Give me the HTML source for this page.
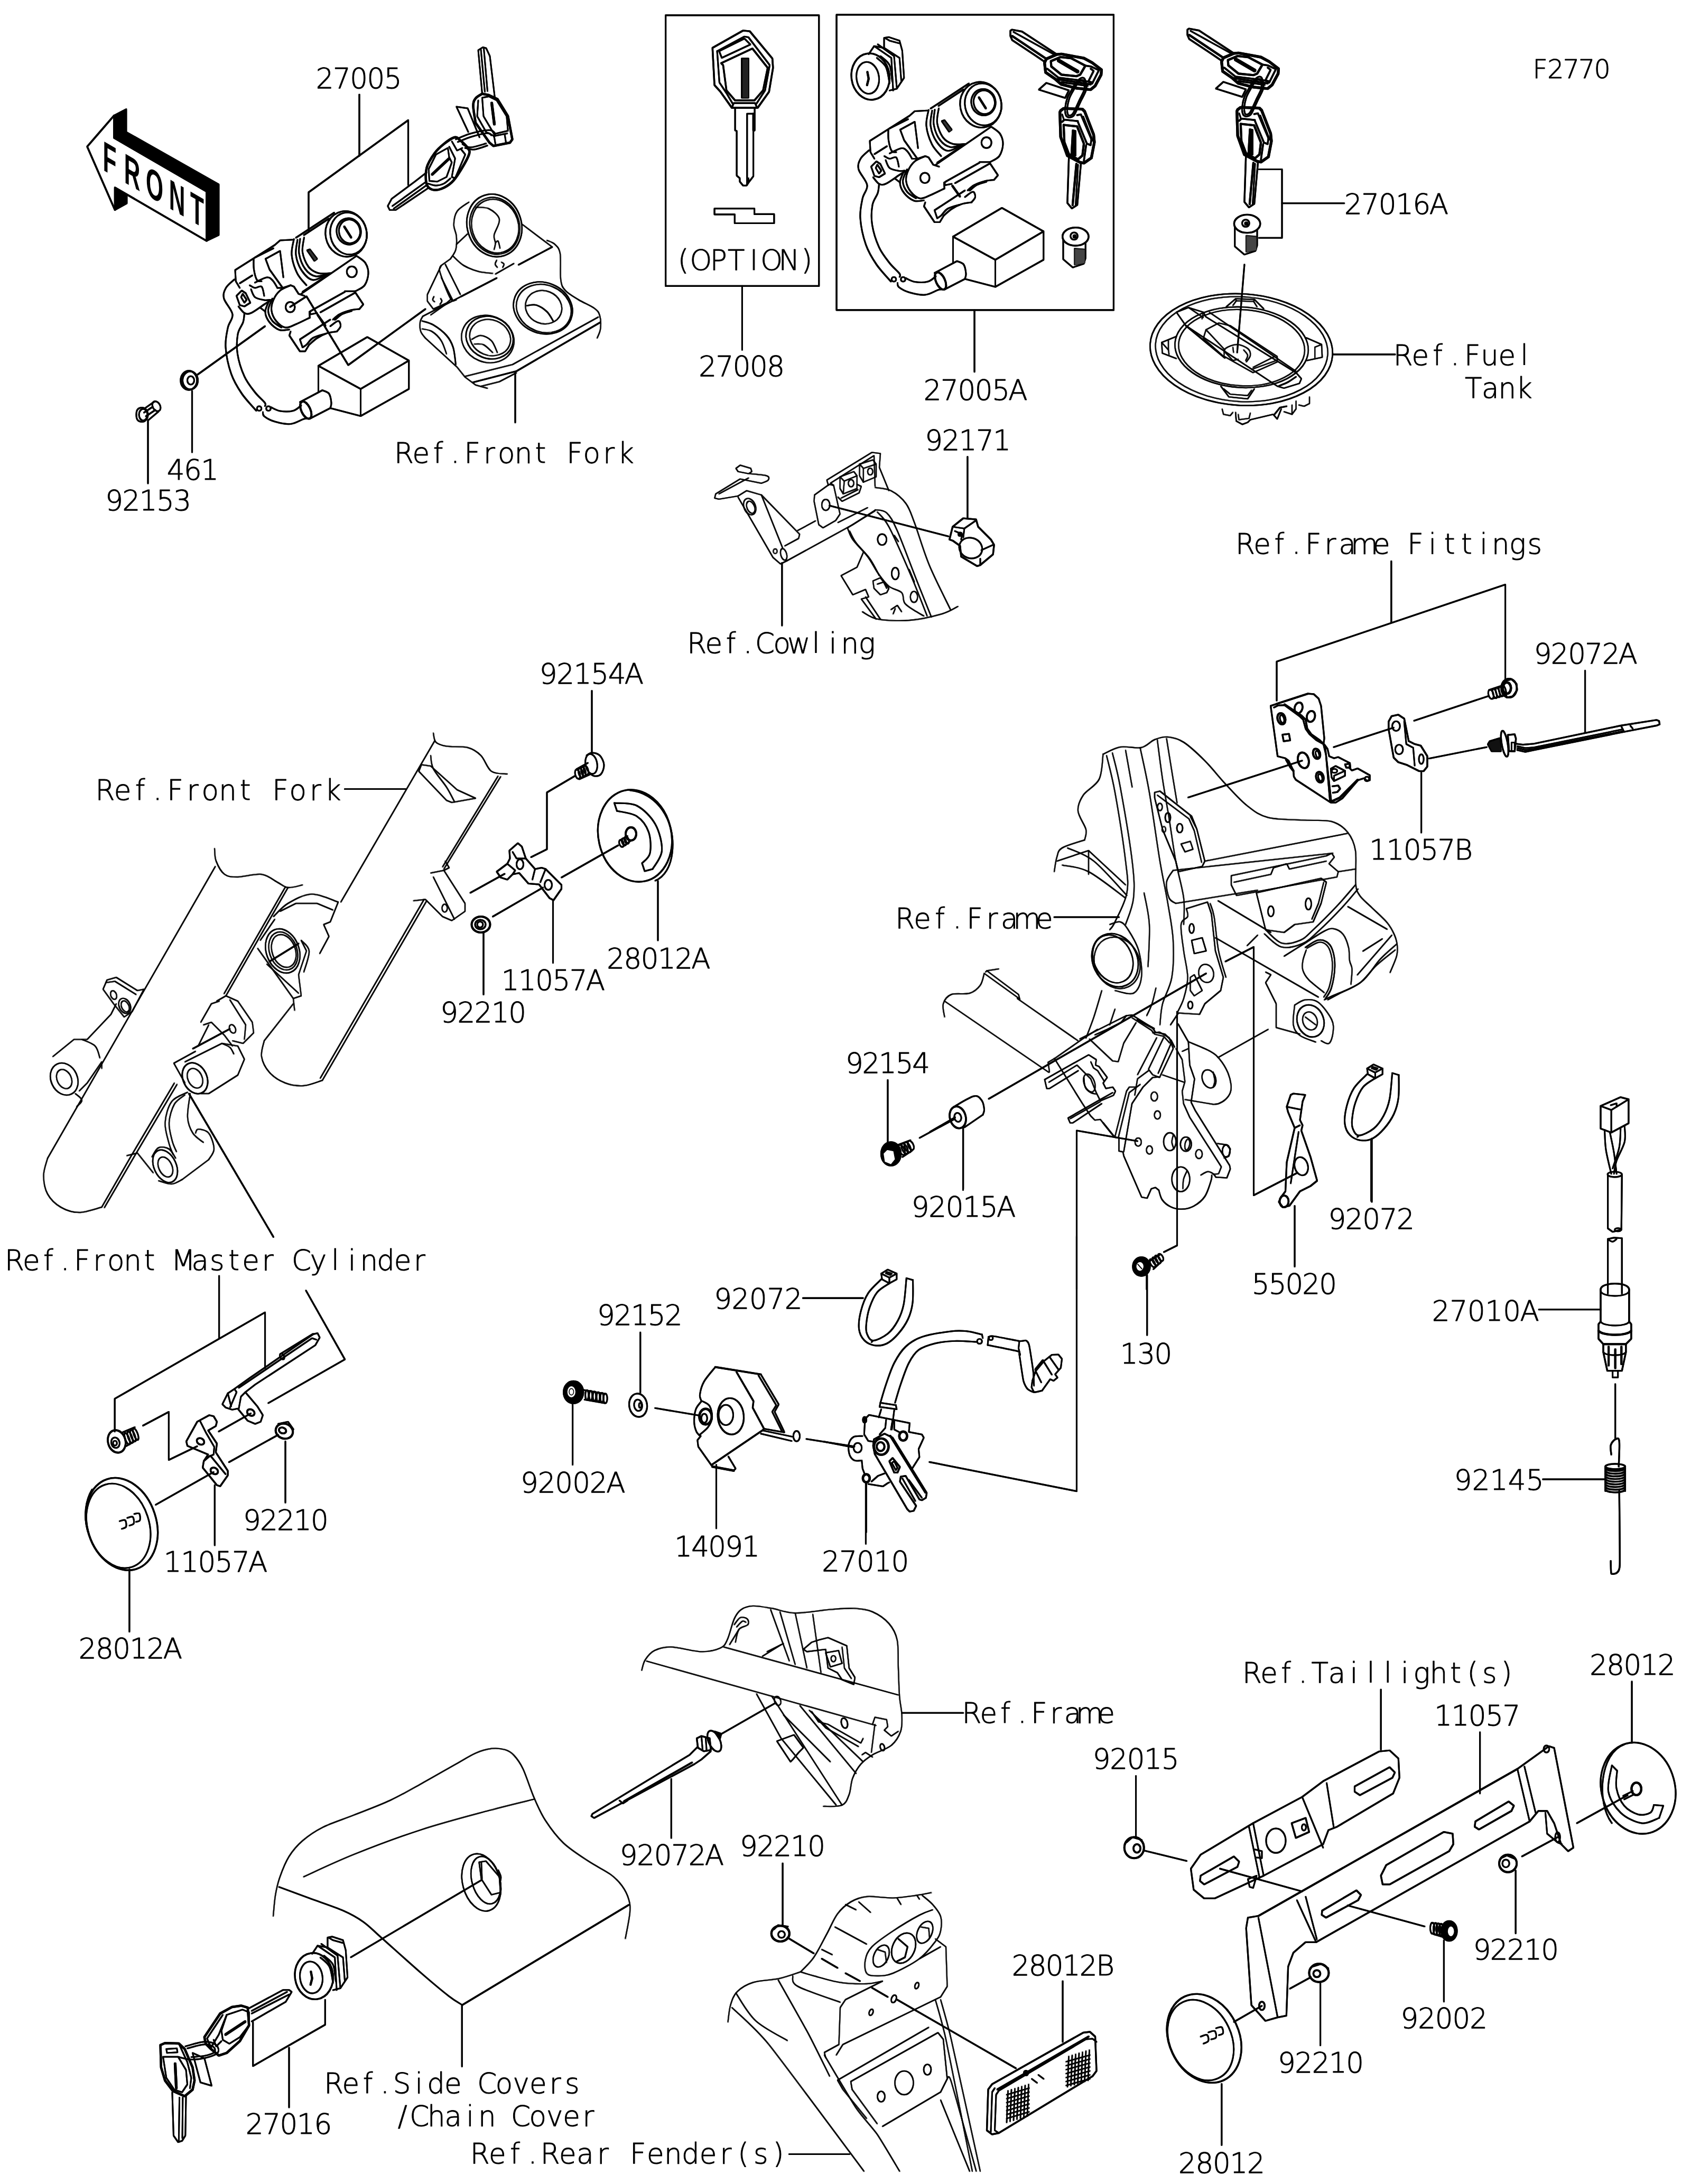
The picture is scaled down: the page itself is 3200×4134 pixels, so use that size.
<!DOCTYPE html>
<html><head><meta charset="utf-8"><title>F2770 Ignition Switch / Locks / Reflectors</title>
<style>
html,body{margin:0;padding:0;background:#fff}
body{width:3200px;height:4134px;overflow:hidden}
svg{display:block}
.t{font-family:"DejaVu Sans Light","DejaVu Sans","Liberation Sans",sans-serif;font-weight:200;fill:#000;stroke:#000;stroke-width:1px;text-anchor:middle}
.fr{font-family:"Liberation Sans",sans-serif;font-weight:700;fill:#000;stroke:none;text-anchor:middle}
</style></head><body>
<svg width="3200" height="4134" viewBox="0 0 3200 4134" fill="none" stroke="#000" stroke-linecap="round" stroke-linejoin="round">
<rect x="0" y="0" width="3200" height="4134" fill="#fff" stroke="none"/>
<g transform="translate(-0.7,-0.7)">
<g id="a">
<g transform="translate(100,150) scale(0.50000)" stroke-width="3.54">
<path d="M1160,58 L1160,290"/>
<path d="M968,572 L968,428 L1345,155 L1345,400"/>
<path d="M548,1118 L803,935"/>
<path d="M898,862 L960,822 L1118,1082 L1410,870"/>
<path d="M527,1180 L527,1412"/>
<path d="M360,1290 L360,1530"/>
<path d="M130,255 L232,137 L232,222 L582,425 L582,612 L235,410 L235,495 Z" stroke-width="4.08"/>
<path d="M232,137 L278,113 L278,200 L628,398 L628,590 L582,612 L582,425 L232,222 Z" stroke-width="2.72" fill="#000"/>
<path d="M235,410 L280,437 L280,470 L235,495 Z" stroke-width="2.72" fill="#000"/>
</g>
<g transform="translate(400,370) scale(0.25000)" stroke-width="6.53">
<ellipse cx="1020" cy="291" rx="156" ry="173" transform="rotate(-12 1020 291)"/>
<ellipse cx="1038" cy="288" rx="138" ry="160" transform="rotate(-12 1038 288)"/>
<ellipse cx="1040" cy="272" rx="92" ry="100" transform="rotate(-12 1040 272)"/>
<ellipse cx="1046" cy="272" rx="80" ry="90" transform="rotate(-12 1046 272)"/>
<path d="M1006,236 L1058,318" stroke-width="10.88"/>
<path d="M930,130 L640,320"/>
<path d="M890,175 L700,300"/>
<path d="M1098,458 L680,745"/>
<path d="M900,590 L690,730"/>
<path d="M625,330 C622.2,350.0 603.8,406.7 608,450 C612.2,493.3 631.3,551.7 650,590 C668.7,628.3 708.3,665.0 720,680"/>
<path d="M652,335 C650.0,354.2 634.5,410.8 640,450 C645.5,489.2 663.3,538.3 685,570 C706.7,601.7 737.5,636.3 770,640 C802.5,643.7 861.7,600.0 880,592"/>
<path d="M702,318 C700.0,336.7 684.5,393.0 690,430 C695.5,467.0 715.0,513.7 735,540 C755.0,566.3 781.7,580.0 810,588 C838.3,596.0 889.2,588.0 905,588"/>
<path d="M672,328 C670.7,346.7 657.7,402.0 664,440 C670.3,478.0 689.0,527.3 710,556 C731.0,584.7 760.0,606.3 790,612 C820.0,617.7 873.3,593.7 890,590"/>
<path d="M725,415 L745,408 L800,480 L780,495 Z" fill="#333"/>
<path d="M1100,458 C1110.8,466.7 1150.3,488.0 1165,510 C1179.7,532.0 1188.8,561.7 1188,590 C1187.2,618.3 1176.3,657.5 1160,680 C1143.7,702.5 1101.7,717.5 1090,725"/>
<path d="M1090,725 L1010,725"/>
<ellipse cx="1063" cy="578" rx="38" ry="41"/>
<path d="M600,680 C586.7,686.7 541.7,701.7 520,720 C498.3,738.3 480.8,765.0 470,790 C459.2,815.0 451.7,843.3 455,870 C458.3,896.7 472.5,928.3 490,950 C507.5,971.7 535.0,995.8 560,1000 C585.0,1004.2 609.2,987.5 640,975 C670.8,962.5 727.5,933.3 745,925"/>
<path d="M745,925 L742,882 L760,870"/>
<path d="M600,680 L625,690 L660,745 L705,760"/>
<ellipse cx="597" cy="845" rx="35" ry="39"/>
<path d="M440,790 C434.7,805.0 408.0,851.7 408,880 C408.0,908.3 422.2,937.0 440,960 C457.8,983.0 490.0,1008.8 515,1018 C540.0,1027.2 577.5,1015.5 590,1015"/>
<path d="M462,780 C456.7,795.0 430.0,841.7 430,870 C430.0,898.3 445.3,928.3 462,950 C478.7,971.7 518.7,991.7 530,1000"/>
<path d="M215,700 L185,650 L180,565 L480,375 L520,340 L615,335"/>
<path d="M330,470 L470,400"/>
<path d="M320,480 C320.3,493.3 317.8,533.3 322,560 C326.2,586.7 335.3,625.0 345,640 C354.7,655.0 374.2,648.3 380,650"/>
<path d="M330,660 C345.0,653.3 397.5,622.5 420,620 C442.5,617.5 451.7,631.7 465,645 C478.3,658.3 494.2,690.8 500,700"/>
<path d="M500,700 L540,700 L600,680"/>
<path d="M410,480 L520,420 L545,620"/>
<path d="M410,480 L440,560 L540,700"/>
<path d="M215,665 L310,605"/>
<path d="M290,680 C296.7,683.3 315.0,698.3 330,700 C345.0,701.7 368.3,680.0 380,690 C391.7,700.0 396.7,748.3 400,760"/>
<path d="M190,760 L230,720 L260,740 L295,812 L250,840 L215,830 Z"/>
<path d="M237,745 L267,790 L250,812 L225,770 Z"/>
<path d="M300,710 C305.0,720.0 313.3,756.3 330,770 C346.7,783.7 380.8,788.7 400,792 C419.2,795.3 437.5,790.3 445,790"/>
<path d="M205,840 C212.5,848.3 234.2,881.7 250,890 C265.8,898.3 275.0,900.8 300,890 C325.0,879.2 375.0,841.3 400,825 C425.0,808.7 441.7,797.5 450,792"/>
<path d="M370,850 L410,880"/>
<path d="M175,635 C164.2,645.8 123.3,675.8 110,700 C96.7,724.2 86.7,746.7 95,780 C103.3,813.3 155.0,863.3 160,900 C165.0,936.7 133.7,958.3 125,1000 C116.3,1041.7 103.8,1091.7 108,1150 C112.2,1208.3 129.7,1291.7 150,1350 C170.3,1408.3 198.3,1453.3 230,1500 C261.7,1546.7 321.7,1608.3 340,1630"/>
<path d="M250,892 C248.3,903.3 248.3,933.7 240,960 C231.7,986.3 207.0,1010.0 200,1050 C193.0,1090.0 189.7,1146.7 198,1200 C206.3,1253.3 228.0,1321.7 250,1370 C272.0,1418.3 304.2,1456.7 330,1490 C355.8,1523.3 392.5,1552.5 405,1570 C417.5,1587.5 405.0,1590.8 405,1595"/>
<ellipse cx="362" cy="1613" rx="17" ry="17"/>
<ellipse cx="432" cy="1613" rx="17" ry="17"/>
<path d="M390,1640 C391.7,1645.3 385.0,1660.0 400,1672 C415.0,1684.0 446.7,1702.3 480,1712 C513.3,1721.7 563.3,1733.3 600,1730 C636.7,1726.7 676.7,1698.7 700,1692 C723.3,1685.3 733.3,1690.3 740,1690"/>
<path d="M450,1603 C461.7,1607.8 491.7,1627.5 520,1632 C548.3,1636.5 593.3,1637.0 620,1630 C646.7,1623.0 670.0,1596.7 680,1590"/>
<ellipse cx="715" cy="1625" rx="34" ry="70" stroke-width="9.52" transform="rotate(-25 715 1625)"/>
<path d="M670,1565 L840,1475"/>
<path d="M745,1690 L900,1610"/>
<path d="M840,1475 C848.3,1479.2 878.7,1484.2 890,1500 C901.3,1515.8 906.3,1551.7 908,1570 C909.7,1588.3 901.3,1603.3 900,1610"/>
<path d="M810,1290 L1180,1072 L1495,1250 L1130,1465 Z"/>
<path d="M810,1290 L810,1490"/>
<path d="M900,1610 L1130,1670 L1495,1465 L1495,1250"/>
<path d="M1130,1465 L1130,1670"/>
<path d="M600,1030 L590,1060 L670,1180 L710,1180 L740,1130"/>
<path d="M740,1130 C750.0,1121.7 778.3,1094.2 800,1080 C821.7,1065.8 845.0,1053.3 870,1045 C895.0,1036.7 936.7,1032.5 950,1030"/>
<path d="M950,1030 C954.7,1023.3 976.3,1003.3 978,990 C979.7,976.7 973.0,950.0 960,950 C947.0,950.0 910.0,983.3 900,990"/>
<path d="M690,1150 L670,1090 L900,940"/>
<path d="M690,1150 C695.0,1146.7 706.7,1142.0 720,1130 C733.3,1118.0 746.7,1091.7 770,1078 C793.3,1064.3 845.0,1053.0 860,1048"/>
<path d="M760,870 L1010,730"/>
<path d="M825,885 L1090,735"/>
<path d="M1090,735 L1150,825 L1120,860"/>
<path d="M1120,860 C1108.3,861.7 1075.0,863.3 1050,870 C1025.0,876.7 991.7,888.3 970,900 C948.3,911.7 928.3,933.3 920,940"/>
<path d="M935,938 C944.2,930.8 969.2,906.0 990,895 C1010.8,884.0 1048.3,875.8 1060,872" stroke-width="12.24"/>
<path d="M745,880 L750,900 L800,890"/>
<path d="M805,905 L862,985" stroke-width="10.88"/>
</g>
<g transform="translate(100,150) scale(0.50000)" stroke-width="3.26">
<ellipse cx="515" cy="1140" rx="31" ry="36" stroke-width="4.08"/>
<ellipse cx="520" cy="1140" rx="29" ry="34"/>
<ellipse cx="522" cy="1140" rx="13" ry="16"/>
<path d="M318,1255 C320.8,1248.0 329.3,1243.8 335,1243 C340.7,1242.2 347.8,1245.5 352,1250 C356.2,1254.5 360.0,1263.3 360,1270 C360.0,1276.7 356.2,1285.5 352,1290 C347.8,1294.5 340.7,1297.8 335,1297 C329.3,1296.2 320.8,1292.0 318,1285 C315.2,1278.0 315.2,1262.0 318,1255 Z"/>
<ellipse cx="342" cy="1270" rx="16" ry="22" stroke-width="3.26"/>
<path d="M345,1248 L385,1220"/>
<path d="M362,1290 L400,1258"/>
<ellipse cx="392" cy="1238" rx="14" ry="20" transform="rotate(-30 392 1238)"/>
<path d="M345,1262 L378,1240"/>
<path d="M352,1276 L388,1252"/>
</g>
<g transform="translate(700,60) scale(0.25000)" stroke-width="5.98">
<path d="M850,470 L820,140 L855,118 L880,125 L908,185 L945,495"/>
<path d="M840,135 L870,455"/>
<path d="M862,125 L890,450"/>
<path d="M850,470 C841.7,475.8 811.3,490.0 800,505 C788.7,520.0 782.0,529.2 782,560 C782.0,590.8 797.0,668.3 800,690" stroke-width="11.97"/>
<path d="M800,690 L905,840 L935,865 L1060,840 L1078,815 L1045,640 L965,510 L900,480 L850,470" stroke-width="11.97"/>
<path d="M850,500 L900,490 L960,520 L1035,640 L1045,750 L940,775 L860,640 Z"/>
<path d="M820,520 L812,640 L880,760 L940,790 L1040,770"/>
<path d="M922,540 L942,700" stroke-width="14.96"/>
<path d="M940,790 L950,850"/>
<path d="M1020,775 L1030,840"/>
<path d="M745,760 L655,568 L740,580 L830,800"/>
<path d="M650,815 C668.3,807.8 718.3,783.7 760,772 C801.7,760.3 869.2,745.7 900,745 C930.8,744.3 938.7,759.7 945,768 C951.3,776.3 939.2,790.5 938,795"/>
<path d="M665,835 C682.5,828.3 732.5,806.2 770,795 C807.5,783.8 865.0,769.7 890,768 C915.0,766.3 915.0,782.2 920,785"/>
<path d="M700,850 C710.0,854.3 730.0,876.7 760,876 C790.0,875.3 860.0,851.0 880,846"/>
<path d="M720,880 C731.7,882.0 761.7,895.0 790,892 C818.3,889.0 873.3,867.0 890,862"/>
<path d="M640,800 C620.0,805.0 585.0,830.0 560,850 C535.0,870.0 511.7,890.0 490,920 C468.3,950.0 440.3,991.7 430,1030 C419.7,1068.3 421.3,1122.5 428,1150 C434.7,1177.5 451.3,1188.3 470,1195 C488.7,1201.7 515.0,1199.2 540,1190 C565.0,1180.8 596.7,1161.7 620,1140 C643.3,1118.3 658.3,1095.0 680,1060 C701.7,1025.0 740.0,960.0 750,930 C760.0,900.0 751.7,898.3 740,880 C728.3,861.7 696.7,833.3 680,820 C663.3,806.7 660.0,795.0 640,800 Z" stroke-width="11.97"/>
<path d="M590,880 L500,930 L445,1040 L450,1130 L510,1135 L580,1100 L620,990 L600,950 Z"/>
<path d="M472,1080 L598,962" stroke-width="14.96"/>
<path d="M600,870 L645,960 L620,1100 L645,1110 L722,930 L690,890"/>
<path d="M620,830 L660,900 L700,880"/>
<path d="M440,1150 C450.0,1152.5 480.0,1165.0 500,1165 C520.0,1165.0 541.7,1159.2 560,1150 C578.3,1140.8 601.7,1116.7 610,1110"/>
<path d="M430,1065 L340,1135 L165,1265 L135,1320 L150,1350 L195,1350 L440,1185"/>
<path d="M420,1140 L170,1320"/>
<path d="M425,1165 L180,1340"/>
</g>
<g transform="translate(1240,10) scale(0.25183)" stroke-width="6.75">
<path d="M78,75 L1230,75 L1230,2110 L78,2110 Z"/>
<path d="M653,2110 L653,2590"/>
<path d="M430,320 L660,190 L710,195 L880,400 L885,470 L855,650 L770,770 L575,770 L490,650 L445,600 Z" stroke-width="8.10"/>
<path d="M465,345 L670,235 L700,240 L860,450 L825,640 L760,740"/>
<path d="M465,345 L482,580 L535,660 L582,740"/>
<path d="M495,435 L730,325 L845,470 L810,640 L745,715 L600,715 L535,640 L510,450 Z" stroke-width="8.10"/>
<path d="M480,345 L670,250 L715,295 L500,395 Z"/>
<path d="M650,400 L700,400 L700,695 L650,695 Z" fill="#222"/>
<path d="M590,735 L750,735 L765,770 L575,770 Z"/>
<path d="M600,770 L600,940 L612,945 L612,1280 L635,1300 L635,1325 L660,1355 L685,1355 L710,1320 L737,1285 L737,945 L747,940 L747,770"/>
<path d="M735,815 L690,815 L690,1350"/>
<path d="M737,815 L737,940" stroke-width="9.45"/>
<path d="M700,1300 L700,1325"/>
<path d="M445,1528 L745,1528 L745,1570 L893,1570 L893,1638 L597,1638 L597,1572 L445,1572 Z"/>
</g>
<g transform="translate(770,340) scale(0.25000)" stroke-width="4.07">
<ellipse cx="662" cy="347" rx="205" ry="240" stroke-width="5.30" transform="rotate(-18 662 347)"/>
<ellipse cx="665" cy="350" rx="186" ry="218" transform="rotate(-18 665 350)"/>
<ellipse cx="668" cy="352" rx="176" ry="206" transform="rotate(-18 668 352)"/>
<path d="M520,210 C536.7,211.7 590.0,205.0 620,220 C650.0,235.0 693.3,266.7 700,300 C706.7,333.3 665.0,390.0 660,420 C655.0,450.0 670.0,461.7 670,480 C670.0,498.3 661.7,521.7 660,530"/>
<path d="M670,480 C673.3,477.5 684.2,458.3 690,465 C695.8,471.7 702.5,510.8 705,520"/>
<path d="M470,170 C455.0,181.7 399.2,211.7 380,240 C360.8,268.3 355.8,308.3 355,340 C354.2,371.7 372.5,398.3 375,430 C377.5,461.7 377.5,501.7 370,530 C362.5,558.3 336.7,588.3 330,600"/>
<path d="M375,490 L460,410"/>
<path d="M350,580 C363.3,591.7 398.3,630.8 430,650 C461.7,669.2 503.3,685.0 540,695 C576.7,705.0 631.7,707.5 650,710"/>
<path d="M680,610 C678.0,615.0 667.2,630.8 668,640 C668.8,649.2 682.2,660.8 685,665"/>
<path d="M715,625 C718.3,627.5 733.3,633.3 735,640 C736.7,646.7 726.7,660.8 725,665"/>
<path d="M875,340 L1100,510"/>
<path d="M1060,460 C1070.0,465.0 1103.3,473.3 1120,490 C1136.7,506.7 1152.5,515.0 1160,560 C1167.5,605.0 1158.3,713.3 1165,760 C1171.7,806.7 1177.5,815.0 1200,840 C1222.5,865.0 1263.3,887.5 1300,910 C1336.7,932.5 1393.3,955.0 1420,975 C1446.7,995.0 1452.5,1004.2 1460,1030 C1467.5,1055.8 1468.3,1101.7 1465,1130 C1461.7,1158.3 1444.2,1188.3 1440,1200"/>
<path d="M1100,510 L845,645" stroke-width="6.19"/>
<path d="M810,635 L670,715"/>
<path d="M680,745 L410,885" stroke-width="6.19"/>
<path d="M330,600 L260,650 L155,870 L155,920 L200,980 L300,935 L340,900"/>
<path d="M260,650 C258.3,658.3 238.3,658.3 250,700 C261.7,741.7 309.2,865.0 330,900 C350.8,935.0 367.5,908.3 375,910"/>
<path d="M290,640 L405,870"/>
<path d="M260,740 L350,920"/>
<path d="M205,885 C203.3,889.2 194.2,903.3 195,910 C195.8,916.7 207.5,922.5 210,925"/>
<path d="M255,900 C256.7,903.3 265.8,912.5 265,920 C264.2,927.5 252.5,940.8 250,945"/>
<path d="M120,1035 L410,885"/>
<path d="M180,1025 L300,940"/>
<path d="M120,1035 C116.7,1042.5 102.5,1060.8 100,1080 C97.5,1099.2 98.3,1130.0 105,1150 C111.7,1170.0 134.2,1191.7 140,1200"/>
<path d="M140,1200 L380,1420 L440,1495 L520,1555 L610,1580"/>
<path d="M115,1070 C129.2,1075.0 169.2,1081.7 200,1100 C230.8,1118.3 275.0,1151.7 300,1180 C325.0,1208.3 338.3,1233.3 350,1270 C361.7,1306.7 366.7,1378.3 370,1400" stroke-width="5.66"/>
<path d="M115,1130 C127.5,1133.3 165.8,1135.0 190,1150 C214.2,1165.0 241.7,1191.7 260,1220 C278.3,1248.3 293.3,1303.3 300,1320"/>
<path d="M440,1490 L800,1400 L1450,1040"/>
<path d="M500,1535 L830,1450 L1465,1080" stroke-width="6.36"/>
<path d="M560,1565 L700,1530 L830,1462"/>
<path d="M820,1460 L820,1839" stroke-width="6.80"/>
<ellipse cx="1030" cy="972" rx="228" ry="192" stroke-width="4.95" transform="rotate(22 1030 972)"/>
<ellipse cx="1036" cy="976" rx="212" ry="178" transform="rotate(22 1036 976)"/>
<ellipse cx="1035" cy="966" rx="140" ry="124" transform="rotate(22 1035 966)"/>
<path d="M905,955 C917.5,954.2 954.2,942.5 980,950 C1005.8,957.5 1038.3,979.2 1060,1000 C1081.7,1020.8 1101.7,1062.5 1110,1075" stroke-width="5.30"/>
<ellipse cx="612" cy="1207" rx="202" ry="176" transform="rotate(22 612 1207)"/>
<ellipse cx="626" cy="1196" rx="182" ry="158" stroke-width="4.95" transform="rotate(22 626 1196)"/>
<ellipse cx="630" cy="1196" rx="158" ry="134" transform="rotate(22 630 1196)"/>
<path d="M490,1210 C501.7,1205.0 535.0,1178.3 560,1180 C585.0,1181.7 619.2,1198.3 640,1220 C660.8,1241.7 677.5,1295.0 685,1310"/>
<path d="M510,1245 C521.7,1245.8 556.7,1239.2 580,1250 C603.3,1260.8 638.3,1300.0 650,1310"/>
</g>
<g transform="translate(1601,125.5) scale(0.25000)" stroke-width="6.53">
<ellipse cx="1020" cy="291" rx="156" ry="173" transform="rotate(-12 1020 291)"/>
<ellipse cx="1038" cy="288" rx="138" ry="160" transform="rotate(-12 1038 288)"/>
<ellipse cx="1040" cy="272" rx="92" ry="100" transform="rotate(-12 1040 272)"/>
<ellipse cx="1046" cy="272" rx="80" ry="90" transform="rotate(-12 1046 272)"/>
<path d="M1006,236 L1058,318" stroke-width="10.88"/>
<path d="M930,130 L640,320"/>
<path d="M890,175 L700,300"/>
<path d="M1098,458 L680,745"/>
<path d="M900,590 L690,730"/>
<path d="M625,330 C622.2,350.0 603.8,406.7 608,450 C612.2,493.3 631.3,551.7 650,590 C668.7,628.3 708.3,665.0 720,680"/>
<path d="M652,335 C650.0,354.2 634.5,410.8 640,450 C645.5,489.2 663.3,538.3 685,570 C706.7,601.7 737.5,636.3 770,640 C802.5,643.7 861.7,600.0 880,592"/>
<path d="M702,318 C700.0,336.7 684.5,393.0 690,430 C695.5,467.0 715.0,513.7 735,540 C755.0,566.3 781.7,580.0 810,588 C838.3,596.0 889.2,588.0 905,588"/>
<path d="M672,328 C670.7,346.7 657.7,402.0 664,440 C670.3,478.0 689.0,527.3 710,556 C731.0,584.7 760.0,606.3 790,612 C820.0,617.7 873.3,593.7 890,590"/>
<path d="M725,415 L745,408 L800,480 L780,495 Z" fill="#333"/>
<path d="M1100,458 C1110.8,466.7 1150.3,488.0 1165,510 C1179.7,532.0 1188.8,561.7 1188,590 C1187.2,618.3 1176.3,657.5 1160,680 C1143.7,702.5 1101.7,717.5 1090,725"/>
<path d="M1090,725 L1010,725"/>
<ellipse cx="1063" cy="578" rx="38" ry="41"/>
<path d="M600,680 C586.7,686.7 541.7,701.7 520,720 C498.3,738.3 480.8,765.0 470,790 C459.2,815.0 451.7,843.3 455,870 C458.3,896.7 472.5,928.3 490,950 C507.5,971.7 535.0,995.8 560,1000 C585.0,1004.2 609.2,987.5 640,975 C670.8,962.5 727.5,933.3 745,925"/>
<path d="M745,925 L742,882 L760,870"/>
<path d="M600,680 L625,690 L660,745 L705,760"/>
<ellipse cx="597" cy="845" rx="35" ry="39"/>
<path d="M440,790 C434.7,805.0 408.0,851.7 408,880 C408.0,908.3 422.2,937.0 440,960 C457.8,983.0 490.0,1008.8 515,1018 C540.0,1027.2 577.5,1015.5 590,1015"/>
<path d="M462,780 C456.7,795.0 430.0,841.7 430,870 C430.0,898.3 445.3,928.3 462,950 C478.7,971.7 518.7,991.7 530,1000"/>
<path d="M215,700 L185,650 L180,565 L480,375 L520,340 L615,335"/>
<path d="M330,470 L470,400"/>
<path d="M320,480 C320.3,493.3 317.8,533.3 322,560 C326.2,586.7 335.3,625.0 345,640 C354.7,655.0 374.2,648.3 380,650"/>
<path d="M330,660 C345.0,653.3 397.5,622.5 420,620 C442.5,617.5 451.7,631.7 465,645 C478.3,658.3 494.2,690.8 500,700"/>
<path d="M500,700 L540,700 L600,680"/>
<path d="M410,480 L520,420 L545,620"/>
<path d="M410,480 L440,560 L540,700"/>
<path d="M215,665 L310,605"/>
<path d="M290,680 C296.7,683.3 315.0,698.3 330,700 C345.0,701.7 368.3,680.0 380,690 C391.7,700.0 396.7,748.3 400,760"/>
<path d="M190,760 L230,720 L260,740 L295,812 L250,840 L215,830 Z"/>
<path d="M237,745 L267,790 L250,812 L225,770 Z"/>
<path d="M300,710 C305.0,720.0 313.3,756.3 330,770 C346.7,783.7 380.8,788.7 400,792 C419.2,795.3 437.5,790.3 445,790"/>
<path d="M205,840 C212.5,848.3 234.2,881.7 250,890 C265.8,898.3 275.0,900.8 300,890 C325.0,879.2 375.0,841.3 400,825 C425.0,808.7 441.7,797.5 450,792"/>
<path d="M370,850 L410,880"/>
<path d="M175,635 C164.2,645.8 123.3,675.8 110,700 C96.7,724.2 86.7,746.7 95,780 C103.3,813.3 155.0,863.3 160,900 C165.0,936.7 133.7,958.3 125,1000 C116.3,1041.7 103.8,1091.7 108,1150 C112.2,1208.3 129.7,1291.7 150,1350 C170.3,1408.3 198.3,1453.3 230,1500 C261.7,1546.7 321.7,1608.3 340,1630"/>
<path d="M250,892 C248.3,903.3 248.3,933.7 240,960 C231.7,986.3 207.0,1010.0 200,1050 C193.0,1090.0 189.7,1146.7 198,1200 C206.3,1253.3 228.0,1321.7 250,1370 C272.0,1418.3 304.2,1456.7 330,1490 C355.8,1523.3 392.5,1552.5 405,1570 C417.5,1587.5 405.0,1590.8 405,1595"/>
<ellipse cx="362" cy="1613" rx="17" ry="17"/>
<ellipse cx="432" cy="1613" rx="17" ry="17"/>
<path d="M390,1640 C391.7,1645.3 385.0,1660.0 400,1672 C415.0,1684.0 446.7,1702.3 480,1712 C513.3,1721.7 563.3,1733.3 600,1730 C636.7,1726.7 676.7,1698.7 700,1692 C723.3,1685.3 733.3,1690.3 740,1690"/>
<path d="M450,1603 C461.7,1607.8 491.7,1627.5 520,1632 C548.3,1636.5 593.3,1637.0 620,1630 C646.7,1623.0 670.0,1596.7 680,1590"/>
<ellipse cx="715" cy="1625" rx="34" ry="70" stroke-width="9.52" transform="rotate(-25 715 1625)"/>
<path d="M670,1565 L840,1475"/>
<path d="M745,1690 L900,1610"/>
<path d="M840,1475 C848.3,1479.2 878.7,1484.2 890,1500 C901.3,1515.8 906.3,1551.7 908,1570 C909.7,1588.3 901.3,1603.3 900,1610"/>
<path d="M810,1290 L1180,1072 L1495,1250 L1130,1465 Z"/>
<path d="M810,1290 L810,1490"/>
<path d="M900,1610 L1130,1670 L1495,1465 L1495,1250"/>
<path d="M1130,1465 L1130,1670"/>
<path d="M600,1030 L590,1060 L670,1180 L710,1180 L740,1130"/>
<path d="M740,1130 C750.0,1121.7 778.3,1094.2 800,1080 C821.7,1065.8 845.0,1053.3 870,1045 C895.0,1036.7 936.7,1032.5 950,1030"/>
<path d="M950,1030 C954.7,1023.3 976.3,1003.3 978,990 C979.7,976.7 973.0,950.0 960,950 C947.0,950.0 910.0,983.3 900,990"/>
<path d="M690,1150 L670,1090 L900,940"/>
<path d="M690,1150 C695.0,1146.7 706.7,1142.0 720,1130 C733.3,1118.0 746.7,1091.7 770,1078 C793.3,1064.3 845.0,1053.0 860,1048"/>
<path d="M760,870 L1010,730"/>
<path d="M825,885 L1090,735"/>
<path d="M1090,735 L1150,825 L1120,860"/>
<path d="M1120,860 C1108.3,861.7 1075.0,863.3 1050,870 C1025.0,876.7 991.7,888.3 970,900 C948.3,911.7 928.3,933.3 920,940"/>
<path d="M935,938 C944.2,930.8 969.2,906.0 990,895 C1010.8,884.0 1048.3,875.8 1060,872" stroke-width="12.24"/>
<path d="M745,880 L750,900 L800,890"/>
<path d="M805,905 L862,985" stroke-width="10.88"/>
</g>
<g transform="translate(1570,10) scale(0.34341)" stroke-width="4.75">
<path d="M38,52 L1565,52 L1565,1680 L38,1680 Z" stroke-width="5.15"/>
<path d="M798,1680 L798,2020" stroke-width="5.15"/>
</g>
<g transform="translate(1895,42) scale(0.14192)" stroke-width="11.02">
<path d="M740,430 L275,125 L140,100 L120,115 L120,185 L145,240 L440,435 L580,530" stroke-width="13.42"/>
<path d="M145,185 L600,490" stroke-width="19.17"/>
<path d="M160,130 L720,440"/>
<path d="M740,430 L800,425 L1100,480 L1210,540 L1335,635 L1330,700 L1250,850 L1190,900 L1000,880 L800,830 L720,760 L590,670 L575,540 L600,490 Z" stroke-width="26.35"/>
<path d="M660,520 L790,465 L930,480 L1120,580 L1050,700 L1000,720 L800,700 L665,590 Z" stroke-width="19.17"/>
<path d="M765,512 L1015,658" stroke-width="38.33"/>
<path d="M610,620 L760,740 L1000,770 L1200,800" stroke-width="14.37"/>
<path d="M1120,580 L1190,590 L1300,640 L1210,820 L1160,790 L1230,650 L1190,620" stroke-width="14.37"/>
<path d="M730,760 L1000,800 L1190,830" stroke-width="16.77"/>
<path d="M800,800 L1150,850" stroke-width="14.37"/>
<path d="M500,900 L600,810 L900,910 L850,1010 Z" stroke-width="12.46"/>
<path d="M1080,740 C1060.0,743.3 1023.3,773.3 1000,800 C976.7,826.7 960.0,865.0 940,900 C920.0,935.0 895.0,968.3 880,1010 C865.0,1051.7 853.3,1111.7 850,1150 C846.7,1188.3 851.7,1220.0 860,1240 C868.3,1260.0 883.3,1268.3 900,1270 C916.7,1271.7 943.3,1265.0 960,1250 C976.7,1235.0 983.3,1213.3 1000,1180 C1016.7,1146.7 1038.3,1096.7 1060,1050 C1081.7,1003.3 1120.0,945.0 1130,900 C1140.0,855.0 1128.3,806.7 1120,780 C1111.7,753.3 1100.0,736.7 1080,740 Z" stroke-width="12.46"/>
<path d="M1075,770 C1060.8,773.3 1034.2,796.7 1015,820 C995.8,843.3 978.3,876.7 960,910 C941.7,943.3 918.7,980.0 905,1020 C891.3,1060.0 881.3,1115.8 878,1150 C874.7,1184.2 880.5,1209.2 885,1225 C889.5,1240.8 895.0,1244.2 905,1245 C915.0,1245.8 932.5,1242.5 945,1230 C957.5,1217.5 964.2,1201.7 980,1170 C995.8,1138.3 1019.2,1085.0 1040,1040 C1060.8,995.0 1095.0,940.0 1105,900 C1115.0,860.0 1105.0,821.7 1100,800 C1095.0,778.3 1089.2,766.7 1075,770 Z"/>
<path d="M790,1180 L830,1150 L1080,1160 L1110,1190 L1230,1500 L1240,1600 L1200,1810 L1100,1880 L1050,1870 L880,1780 L790,1530 L780,1200 Z" stroke-width="26.35"/>
<path d="M830,1370 L1010,1390 L1100,1620 L1080,1780 L1020,1830 L900,1760 L840,1600 Z" stroke-width="19.17"/>
<path d="M950,1440 L930,1780 L990,1780 L990,1450 Z" stroke-width="9.58" fill="#000"/>
<path d="M1010,1240 L1060,1230 L1200,1560 L1190,1640 L1140,1620 L1020,1330" stroke-width="14.37"/>
<path d="M1090,1260 L1215,1580" stroke-width="14.37"/>
<path d="M810,1330 L840,1300 L1020,1320" stroke-width="14.37"/>
<path d="M810,1230 L830,1290"/>
<path d="M1130,1640 L1100,1850" stroke-width="14.37"/>
<path d="M900,1800 L880,2412 L940,2484 L1012,2436 L1060,1890" stroke-width="13.42"/>
<path d="M1000,1890 L950,2440" stroke-width="19.17"/>
<path d="M1022,1900 L990,2450"/>
</g>
<g transform="translate(1570,10) scale(0.34341)" stroke-width="4.55">
<ellipse cx="1355" cy="1275" rx="72" ry="50" stroke-width="5.54"/>
<ellipse cx="1347" cy="1272" rx="20" ry="20"/>
<ellipse cx="1350" cy="1274" rx="7" ry="7" fill="#000"/>
<path d="M1287,1290 L1287,1400 L1340,1445 L1400,1425 L1410,1395 L1410,1310"/>
<path d="M1350,1340 L1405,1345 L1405,1420 L1350,1430 Z" stroke-width="1.98" fill="#444"/>
</g>
<g transform="translate(1570,10) scale(0.34341)" stroke-width="4.55">
<ellipse cx="225" cy="393" rx="105" ry="128" stroke-width="5.54" transform="rotate(-8 225 393)"/>
<ellipse cx="210" cy="400" rx="62" ry="88" transform="rotate(-8 210 400)"/>
<path d="M208,368 L215,405 L206,440" stroke-width="7.92"/>
<path d="M215,270 L245,225 L300,235 L300,180 L325,175 L385,195 L400,250 L410,400 L370,460 L330,470"/>
<path d="M245,225 L340,290 L350,470"/>
<path d="M265,215 L355,280 L370,455"/>
<path d="M300,235 L385,290 L395,420"/>
<path d="M260,290 C268.3,298.3 298.3,316.7 310,340 C321.7,363.3 326.7,415.0 330,430"/>
<path d="M280,280 C288.3,288.3 319.2,306.7 330,330 C340.8,353.3 342.5,405.0 345,420"/>
<path d="M305,180 L330,195 L385,210"/>
</g>
<g transform="translate(2230,40) scale(0.14192)" stroke-width="11.02">
<path d="M740,430 L275,125 L140,100 L120,115 L120,185 L145,240 L440,435 L580,530" stroke-width="13.42"/>
<path d="M145,185 L600,490" stroke-width="19.17"/>
<path d="M160,130 L720,440"/>
<path d="M740,430 L800,425 L1100,480 L1210,540 L1335,635 L1330,700 L1250,850 L1190,900 L1000,880 L800,830 L720,760 L590,670 L575,540 L600,490 Z" stroke-width="26.35"/>
<path d="M660,520 L790,465 L930,480 L1120,580 L1050,700 L1000,720 L800,700 L665,590 Z" stroke-width="19.17"/>
<path d="M765,512 L1015,658" stroke-width="38.33"/>
<path d="M610,620 L760,740 L1000,770 L1200,800" stroke-width="14.37"/>
<path d="M1120,580 L1190,590 L1300,640 L1210,820 L1160,790 L1230,650 L1190,620" stroke-width="14.37"/>
<path d="M730,760 L1000,800 L1190,830" stroke-width="16.77"/>
<path d="M800,800 L1150,850" stroke-width="14.37"/>
<path d="M500,900 L600,810 L900,910 L850,1010 Z" stroke-width="12.46"/>
<path d="M1080,740 C1060.0,743.3 1023.3,773.3 1000,800 C976.7,826.7 960.0,865.0 940,900 C920.0,935.0 895.0,968.3 880,1010 C865.0,1051.7 853.3,1111.7 850,1150 C846.7,1188.3 851.7,1220.0 860,1240 C868.3,1260.0 883.3,1268.3 900,1270 C916.7,1271.7 943.3,1265.0 960,1250 C976.7,1235.0 983.3,1213.3 1000,1180 C1016.7,1146.7 1038.3,1096.7 1060,1050 C1081.7,1003.3 1120.0,945.0 1130,900 C1140.0,855.0 1128.3,806.7 1120,780 C1111.7,753.3 1100.0,736.7 1080,740 Z" stroke-width="12.46"/>
<path d="M1075,770 C1060.8,773.3 1034.2,796.7 1015,820 C995.8,843.3 978.3,876.7 960,910 C941.7,943.3 918.7,980.0 905,1020 C891.3,1060.0 881.3,1115.8 878,1150 C874.7,1184.2 880.5,1209.2 885,1225 C889.5,1240.8 895.0,1244.2 905,1245 C915.0,1245.8 932.5,1242.5 945,1230 C957.5,1217.5 964.2,1201.7 980,1170 C995.8,1138.3 1019.2,1085.0 1040,1040 C1060.8,995.0 1095.0,940.0 1105,900 C1115.0,860.0 1105.0,821.7 1100,800 C1095.0,778.3 1089.2,766.7 1075,770 Z"/>
<path d="M790,1180 L830,1150 L1080,1160 L1110,1190 L1230,1500 L1240,1600 L1200,1810 L1100,1880 L1050,1870 L880,1780 L790,1530 L780,1200 Z" stroke-width="26.35"/>
<path d="M830,1370 L1010,1390 L1100,1620 L1080,1780 L1020,1830 L900,1760 L840,1600 Z" stroke-width="19.17"/>
<path d="M950,1440 L930,1780 L990,1780 L990,1450 Z" stroke-width="9.58" fill="#000"/>
<path d="M1010,1240 L1060,1230 L1200,1560 L1190,1640 L1140,1620 L1020,1330" stroke-width="14.37"/>
<path d="M1090,1260 L1215,1580" stroke-width="14.37"/>
<path d="M810,1330 L840,1300 L1020,1320" stroke-width="14.37"/>
<path d="M810,1230 L830,1290"/>
<path d="M1130,1640 L1100,1850" stroke-width="14.37"/>
<path d="M900,1800 L880,2412 L940,2484 L1012,2436 L1060,1890" stroke-width="13.42"/>
<path d="M1000,1890 L950,2440" stroke-width="19.17"/>
<path d="M1022,1900 L990,2450"/>
</g>
<g transform="translate(1894.8,-14.3) scale(0.34341)" stroke-width="4.55">
<ellipse cx="1355" cy="1275" rx="72" ry="50" stroke-width="5.54"/>
<ellipse cx="1347" cy="1272" rx="20" ry="20"/>
<ellipse cx="1350" cy="1274" rx="7" ry="7" fill="#000"/>
<path d="M1287,1290 L1287,1400 L1340,1445 L1400,1425 L1410,1395 L1410,1310"/>
<path d="M1350,1340 L1405,1345 L1405,1420 L1350,1430 Z" stroke-width="1.98" fill="#444"/>
</g>
<g transform="translate(2130,20) scale(0.34341)" stroke-width="4.95">
<path d="M735,875 L862,875 L862,1253 L735,1253"/>
<path d="M862,1062 L1205,1062"/>
<path d="M655,1400 L615,1885"/>
</g>
<g transform="translate(2150,500) scale(0.50266)" stroke-width="3.11">
<path d="M740,340 L975,340" stroke-width="3.38"/>
</g>
<g transform="translate(2150,530) scale(0.25428)" stroke-width="4.00">
<ellipse cx="783" cy="518" rx="680" ry="415" stroke-width="5.21" transform="rotate(3.5 783 518)"/>
<ellipse cx="785" cy="515" rx="642" ry="390" transform="rotate(3.5 785 515)"/>
<ellipse cx="785" cy="501" rx="497" ry="300" stroke-width="4.52" transform="rotate(3.5 785 501)"/>
<ellipse cx="785" cy="504" rx="470" ry="283" transform="rotate(3.5 785 504)"/>
<path d="M670,200 L740,140 L880,145 L950,215" stroke-width="4.52"/>
<path d="M720,190 L745,155 L875,160 L900,200"/>
<path d="M740,140 L745,155"/>
<path d="M880,145 L875,160"/>
<path d="M300,420 L190,465 L195,545 L300,585" stroke-width="4.52"/>
<path d="M190,465 L240,520 L245,555"/>
<path d="M240,450 L240,520"/>
<path d="M1265,430 L1380,480 L1385,575 L1270,600" stroke-width="4.52"/>
<path d="M1380,480 L1330,500 L1330,580"/>
<path d="M630,790 L690,870 L830,885 L880,810" stroke-width="4.52"/>
<path d="M650,810 L700,850 L830,860 L860,820"/>
<path d="M300,240 L390,205 L500,240 L520,275 L1190,690 L1230,735 L1215,770 L1100,805 L1050,790 L370,340 Z" stroke-width="4.52"/>
<path d="M545,240 L1190,680"/>
<path d="M390,205 L500,280"/>
<path d="M500,240 L490,290"/>
<path d="M500,435 L520,370 L615,320 L700,340 L1050,570 L1050,610 L870,690 L640,560 Z"/>
<path d="M520,370 L660,520"/>
<path d="M870,650 L1030,570"/>
<path d="M860,665 L1040,600"/>
<path d="M370,340 L660,580" stroke-width="6.61"/>
<path d="M1060,790 C1071.7,785.0 1108.3,771.7 1130,760 C1151.7,748.3 1180.0,726.7 1190,720" stroke-width="6.08"/>
<path d="M655,560 C656.7,551.7 649.2,523.3 665,510 C680.8,496.7 722.5,480.0 750,480 C777.5,480.0 813.3,496.7 830,510 C846.7,523.3 851.7,543.3 850,560 C848.3,576.7 825.0,601.7 820,610"/>
<path d="M800,520 C805.0,526.7 827.5,546.7 830,560 C832.5,573.3 817.5,593.3 815,600"/>
<path d="M655,530 L720,600 L760,590"/>
<path d="M720,500 L725,540"/>
<path d="M640,960 L650,1000 L700,1010 L720,985"/>
<path d="M740,985 L745,1050 L790,1075 L830,1060 L850,1040 L1020,1000 L1050,1035 L1080,960" stroke-width="4.87"/>
<path d="M760,1000 L765,1040 L840,1030 L850,990"/>
<path d="M1100,980 L1160,1000 L1190,960 L1190,900"/>
<path d="M1210,930 L1250,940 L1290,920 L1290,870"/>
<path d="M1030,1000 L1070,950 L1120,940" stroke-width="6.08"/>
<path d="M1160,1000 L1160,930"/>
</g>
<g transform="translate(1280,780) scale(0.40212)" stroke-width="2.53">
<path d="M1370,210 L1370,500" stroke-width="4.23"/>
<path d="M720,440 L1280,585" stroke-width="4.23"/>
<path d="M497,710 L497,1005" stroke-width="4.23"/>
<path d="M280,265 L300,250 L350,265 L355,280 L340,290 L290,280 Z"/>
<path d="M345,290 C358.3,291.7 410.5,295.0 425,300 C439.5,305.0 436.2,314.2 432,320 C427.8,325.8 405.3,332.5 400,335"/>
<path d="M400,335 L300,315 L185,385 L180,405 L200,410 L290,395"/>
<path d="M340,310 L200,385"/>
<path d="M290,395 L330,370 L400,390 L580,575 L575,595 L510,630"/>
<path d="M290,400 L455,685 L490,715 L520,700"/>
<path d="M400,390 L500,640"/>
<ellipse cx="345" cy="445" rx="27" ry="40" transform="rotate(-22 345 445)"/>
<ellipse cx="350" cy="448" rx="18" ry="30" transform="rotate(-22 350 448)"/>
<ellipse cx="465" cy="655" rx="9" ry="11"/>
<ellipse cx="505" cy="670" rx="14" ry="28" transform="rotate(-15 505 670)"/>
<path d="M570,558 L655,512"/>
<path d="M520,700 L830,530 L935,462"/>
<path d="M760,520 L900,450"/>
<path d="M650,390 L720,340 L740,345 L770,480 L750,510 L690,545 L670,530 L648,420 Z"/>
<ellipse cx="703" cy="437" rx="19" ry="26"/>
<path d="M715,345 L708,320 L920,190 L960,195 L955,260 L1000,370"/>
<path d="M740,345 L725,335 L930,205 L935,350"/>
<path d="M770,305 L835,280 L850,300 L850,360 L785,385 L770,360 Z"/>
<ellipse cx="822" cy="335" rx="13" ry="17"/>
<path d="M770,305 L790,325 L850,300"/>
<path d="M790,325 L785,385"/>
<path d="M862,245 L925,225 L940,245 L940,305 L880,330 L862,300 Z"/>
<ellipse cx="912" cy="280" rx="12" ry="16"/>
<path d="M862,245 L880,265 L940,245"/>
<path d="M880,265 L880,330"/>
<path d="M760,400 L780,420 L860,380 L870,350 L850,340"/>
<path d="M775,405 L855,365"/>
<path d="M935,355 C947.5,357.5 985.8,357.5 1010,370 C1034.2,382.5 1061.7,405.0 1080,430 C1098.3,455.0 1101.7,471.7 1120,520 C1138.3,568.3 1161.7,651.7 1190,720 C1218.3,788.3 1273.3,895.0 1290,930"/>
<path d="M935,460 C944.2,462.5 972.5,458.3 990,475 C1007.5,491.7 1016.7,507.5 1040,560 C1063.3,612.5 1103.3,722.5 1130,790 C1156.7,857.5 1188.3,935.8 1200,965"/>
<path d="M945,470 C954.2,481.7 974.2,491.7 1000,540 C1025.8,588.3 1070.0,690.0 1100,760 C1130.0,830.0 1166.7,926.7 1180,960"/>
<path d="M875,940 C887.5,945.8 912.5,968.3 950,975 C987.5,981.7 1050.0,984.2 1100,980 C1150.0,975.8 1212.5,960.8 1250,950 C1287.5,939.2 1312.5,920.8 1325,915"/>
<path d="M805,545 L935,465"/>
<path d="M805,545 C809.2,554.2 814.2,577.5 830,600 C845.8,622.5 880.0,653.3 900,680 C920.0,706.7 933.3,736.7 950,760 C966.7,783.3 981.7,805.0 1000,820 C1018.3,835.0 1047.5,836.7 1060,850 C1072.5,863.3 1063.3,885.0 1075,900 C1086.7,915.0 1115.0,930.0 1130,940 C1145.0,950.0 1159.2,956.7 1165,960"/>
<path d="M815,560 C820.0,569.2 829.2,593.3 845,615 C860.8,636.7 891.7,664.2 910,690 C928.3,715.8 947.5,756.7 955,770"/>
<ellipse cx="968" cy="600" rx="21" ry="26" stroke-width="3.30"/>
<ellipse cx="1030" cy="760" rx="17" ry="28" stroke-width="3.30"/>
<ellipse cx="1118" cy="870" rx="17" ry="26"/>
<path d="M1025,580 L1045,610"/>
<path d="M1095,740 L1120,800"/>
<path d="M880,660 L850,730 L775,770 L830,860 L890,835 L905,870 L870,880 L940,975"/>
<path d="M890,870 L960,975"/>
<path d="M925,795 L960,780 L1000,830 L990,850 L960,860 L930,830 Z"/>
<path d="M945,810 L975,800 L990,830"/>
<path d="M1010,930 L1040,910 L1060,940"/>
<path d="M1020,950 L1030,925"/>
</g>
<g transform="translate(1280,780) scale(0.40212)" stroke-width="3.89">
<path d="M1300,540 L1350,500 L1410,505 L1420,540 L1480,600 L1495,625 L1490,670 L1430,720 L1415,725 L1340,680 L1335,630 L1300,605 L1285,600 Z" stroke-width="4.73"/>
<ellipse cx="1385" cy="640" rx="55" ry="48" transform="rotate(20 1385 640)"/>
<path d="M1300,540 L1355,548 L1410,510"/>
<path d="M1355,548 L1350,590"/>
<path d="M1310,560 L1345,575 L1340,600"/>
<path d="M1435,650 L1490,625"/>
<path d="M1430,690 L1430,720"/>
<ellipse cx="1335" cy="575" rx="8" ry="8" fill="#000"/>
</g>
<g transform="translate(560,1230) scale(0.50000)" stroke-width="3.13">
<path d="M1120,155 L1120,390" stroke-width="3.40"/>
<path d="M185,527 L415,527" stroke-width="3.40"/>
<path d="M1055,478 L950,540 L950,755 L890,785" stroke-width="3.40"/>
<path d="M1220,740 L1005,862" stroke-width="3.40"/>
<path d="M935,900 L745,1010" stroke-width="3.40"/>
<path d="M660,920 L790,848" stroke-width="3.40"/>
<path d="M1370,875 L1370,1100" stroke-width="3.40"/>
<path d="M973,950 L973,1185" stroke-width="3.40"/>
<path d="M710,1070 L710,1305" stroke-width="3.40"/>
<path d="M1100,400 C1103.3,398.3 1111.7,390.0 1120,390 C1128.3,390.0 1142.3,392.5 1150,400 C1157.7,407.5 1165.2,423.3 1166,435 C1166.8,446.7 1161.0,462.8 1155,470 C1149.0,477.2 1137.8,478.8 1130,478 C1122.2,477.2 1111.7,467.2 1108,465"/>
<ellipse cx="1118" cy="432" rx="22" ry="38" transform="rotate(-10 1118 432)"/>
<path d="M1105,428 L1062,452"/>
<path d="M1112,472 L1072,490"/>
<ellipse cx="1066" cy="471" rx="9" ry="18" transform="rotate(-15 1066 471)"/>
<ellipse cx="1078" cy="466" rx="8" ry="18" transform="rotate(-15 1078 466)"/>
<ellipse cx="1088" cy="461" rx="8" ry="18" transform="rotate(-15 1088 461)"/>
<ellipse cx="1098" cy="456" rx="8" ry="18" transform="rotate(-15 1098 456)"/>
<ellipse cx="1283" cy="704" rx="138" ry="176" stroke-width="3.54" transform="rotate(-13 1283 704)"/>
<path d="M1265,532 C1360,540 1440,640 1424,770 C1418,820 1395,860 1360,874" stroke-width="3.13"/>
<path d="M1205,580 C1219.2,581.7 1264.2,576.7 1290,590 C1315.8,603.3 1344.2,631.7 1360,660 C1375.8,688.3 1386.7,731.7 1385,760 C1383.3,788.3 1355.8,818.3 1350,830"/>
<path d="M1350,830 L1320,838 L1310,808"/>
<path d="M1310,808 C1315.0,801.7 1335.8,789.7 1340,770 C1344.2,750.3 1343.3,713.3 1335,690 C1326.7,666.7 1310.0,643.3 1290,630 C1270.0,616.7 1227.5,613.3 1215,610"/>
<path d="M1215,610 L1205,580"/>
<ellipse cx="1268" cy="697" rx="20" ry="25" stroke-width="4.76"/>
<path d="M1255,705 L1225,722"/>
<path d="M1268,722 L1238,745"/>
<ellipse cx="1232" cy="733" rx="8" ry="14" transform="rotate(-20 1232 733)"/>
<ellipse cx="1242" cy="727" rx="8" ry="14" transform="rotate(-20 1242 727)"/>
<ellipse cx="1252" cy="721" rx="8" ry="14" transform="rotate(-20 1252 721)"/>
<path d="M808,760 L840,732 L855,745 L870,790 L905,830 L930,825 L945,830 L1005,890 L1005,905 L975,948 L960,940 L920,888 L880,885 L845,845 L820,850 L800,870 L775,862 L760,840 L800,810 L810,790 Z" stroke-width="3.54"/>
<ellipse cx="848" cy="812" rx="13" ry="19"/>
<ellipse cx="955" cy="890" rx="14" ry="19"/>
<path d="M820,765 L835,790 L870,790"/>
<path d="M905,830 L895,870"/>
<path d="M945,830 L925,880"/>
<path d="M800,810 L830,835 L820,850"/>
<ellipse cx="700" cy="1040" rx="35" ry="30" stroke-width="4.90"/>
<ellipse cx="698" cy="1040" rx="20" ry="18"/>
<ellipse cx="697" cy="1040" rx="11" ry="11"/>
</g>
<g transform="translate(560,1230) scale(0.50000)" stroke-width="2.03">
<path d="M510,845 L560,835 L640,960 L640,990 L590,1025 L555,1010 L490,945 L445,950"/>
<ellipse cx="563" cy="978" rx="10" ry="15"/>
<path d="M520,860 L600,1020"/>
<path d="M560,835 L580,825 L565,800"/>
<path d="M525,345 L170,955"/>
<path d="M775,480 L560,830"/>
<path d="M765,478 L555,822"/>
<path d="M520,315 C521.7,320.8 521.7,341.7 530,350 C538.3,358.3 550.0,361.7 570,365 C590.0,368.3 628.3,364.2 650,370 C671.7,375.8 685.0,385.0 700,400 C715.0,415.0 723.3,448.3 740,460 C756.7,471.7 790.0,468.3 800,470"/>
<path d="M510,400 C511.7,408.3 510.0,430.0 520,450 C530.0,470.0 556.7,499.2 570,520 C583.3,540.8 595.0,565.8 600,575"/>
<path d="M475,435 L465,460 L570,570 L590,578 L680,562 L610,530 L510,440 Z"/>
</g>
<g transform="translate(0,1500) scale(0.50000)" stroke-width="2.03">
<path d="M815,280 L180,1385"/>
<path d="M180,1385 C177.5,1395.8 165.0,1427.5 165,1450 C165.0,1472.5 169.2,1500.0 180,1520 C190.8,1540.0 210.0,1558.3 230,1570 C250.0,1581.7 274.2,1590.0 300,1590 C325.8,1590.0 370.8,1573.3 385,1570"/>
<path d="M1090,360 L855,770"/>
<path d="M1080,358 L848,762"/>
<path d="M660,1100 L500,1370 L385,1570"/>
<path d="M670,1105 L510,1375 L395,1572"/>
<path d="M812,212 C813.0,220.0 811.7,243.7 818,260 C824.3,276.3 836.3,300.0 850,310 C863.7,320.0 876.7,320.0 900,320 C923.3,320.0 965.0,306.7 990,310 C1015.0,313.3 1033.3,331.7 1050,340 C1066.7,348.3 1074.2,358.3 1090,360 C1105.8,361.7 1135.8,351.7 1145,350"/>
<path d="M1110,800 L1000,940"/>
<path d="M1000,940 C998.3,950.0 986.7,980.0 990,1000 C993.3,1020.0 1005.0,1043.3 1020,1060 C1035.0,1076.7 1058.3,1091.7 1080,1100 C1101.7,1108.3 1126.7,1111.7 1150,1110 C1173.3,1108.3 1208.3,1093.3 1220,1090"/>
<path d="M1615,410 L1220,1090"/>
<path d="M1605,405 L1212,1082"/>
<path d="M390,745 L405,710 L440,700 L520,750 L545,745 L500,830 L470,850 L430,800 Z"/>
<path d="M400,720 L435,715 L515,765"/>
<ellipse cx="430" cy="767" rx="11" ry="17" transform="rotate(-20 430 767)"/>
<ellipse cx="472" cy="808" rx="21" ry="30" transform="rotate(-25 472 808)"/>
<ellipse cx="474" cy="810" rx="14" ry="22" transform="rotate(-25 474 810)"/>
<ellipse cx="243" cy="1085" rx="50" ry="63" stroke-width="2.30" transform="rotate(-25 243 1085)"/>
<ellipse cx="243" cy="1085" rx="27" ry="38" transform="rotate(-25 243 1085)"/>
<path d="M200,1000 L280,935 L330,935 L420,840 L440,800"/>
<path d="M300,1130 L330,1100 L385,1020"/>
<path d="M310,935 C318.3,939.2 348.7,948.3 360,960 C371.3,971.7 375.0,997.5 378,1005"/>
<path d="M285,1140 C289.2,1144.2 309.2,1156.7 310,1165 C310.8,1173.3 293.3,1185.8 290,1190"/>
<path d="M385,1020 L385,1045"/>
<path d="M1035,470 C1044.2,461.7 1065.8,434.2 1090,420 C1114.2,405.8 1148.3,385.8 1180,385 C1211.7,384.2 1263.3,410.0 1280,415"/>
<path d="M1280,415 L1250,490 L1225,500 L1245,545 L1210,610"/>
<path d="M1060,450 L1120,420 L1200,420 L1260,445"/>
<ellipse cx="1070" cy="600" rx="62" ry="86" stroke-width="2.30" transform="rotate(-20 1070 600)"/>
<ellipse cx="1072" cy="600" rx="52" ry="74" transform="rotate(-20 1072 600)"/>
<ellipse cx="1074" cy="600" rx="44" ry="64" transform="rotate(-20 1074 600)"/>
<path d="M1020,640 L1130,572" stroke-width="3.54"/>
<path d="M975,590 L1110,780 L1140,770 L1130,690 L1160,600 L1140,560"/>
<path d="M1110,780 L1115,825"/>
<path d="M985,560 L1040,480"/>
<path d="M1140,560 C1145.0,566.7 1168.3,580.0 1170,600 C1171.7,620.0 1153.3,666.7 1150,680"/>
<path d="M1010,650 L1130,760"/>
<path d="M820,790 L855,770 L900,790 L955,870 L960,910 L920,950 L880,940"/>
<path d="M870,785 L930,880 L925,935"/>
<ellipse cx="880" cy="895" rx="11" ry="17" transform="rotate(-25 880 895)"/>
<path d="M770,880 L800,870 L850,920 L880,960"/>
<path d="M760,870 L800,800 L830,790"/>
<path d="M750,960 L790,880"/>
<path d="M730,970 L870,895" stroke-width="3.40"/>
<ellipse cx="738" cy="1082" rx="45" ry="61" stroke-width="2.83" transform="rotate(-25 738 1082)"/>
<ellipse cx="738" cy="1082" rx="27" ry="39" transform="rotate(-25 738 1082)"/>
<path d="M700,1020 L840,950 L900,960 L925,1010 L900,1070 L790,1140 L760,1140"/>
<path d="M840,950 C845.0,952.5 862.5,958.3 870,965 C877.5,971.7 882.5,985.8 885,990"/>
<path d="M740,980 L658,1025 L700,1100"/>
<path d="M710,1135 C700.0,1140.8 664.2,1150.8 650,1170 C635.8,1189.2 626.7,1223.3 625,1250 C623.3,1276.7 635.0,1310.0 640,1330 C645.0,1350.0 652.5,1363.3 655,1370"/>
<path d="M700,1145 C693.3,1150.8 670.0,1162.5 660,1180 C650.0,1197.5 641.3,1226.7 640,1250 C638.7,1273.3 647.3,1301.7 652,1320 C656.7,1338.3 665.3,1353.3 668,1360"/>
<path d="M720,1140 C718.3,1155.0 708.3,1205.0 710,1230 C711.7,1255.0 720.0,1274.2 730,1290 C740.0,1305.8 763.3,1319.2 770,1325"/>
<path d="M740,1290 C741.7,1287.5 741.7,1275.0 750,1275 C758.3,1275.0 780.0,1277.5 790,1290 C800.0,1302.5 810.0,1333.3 810,1350 C810.0,1366.7 793.3,1383.3 790,1390"/>
<path d="M790,1390 L690,1465"/>
<ellipse cx="625" cy="1415" rx="42" ry="65" stroke-width="2.48" transform="rotate(-25 625 1415)"/>
<ellipse cx="626" cy="1418" rx="25" ry="40" transform="rotate(-25 626 1418)"/>
<path d="M575,1380 C579.2,1374.2 589.2,1350.0 600,1345 C610.8,1340.0 629.2,1343.3 640,1350 C650.8,1356.7 660.8,1379.2 665,1385"/>
<path d="M600,1470 C608.3,1472.0 635.0,1482.8 650,1482 C665.0,1481.2 683.3,1467.8 690,1465"/>
<path d="M480,1375 L520,1365 L580,1440"/>
<path d="M715,1140 L1035,1683" stroke-width="3.40"/>
</g>
<g transform="translate(100,2480) scale(0.41396)" stroke-width="3.78">
<path d="M760,-157 L760,125" stroke-width="4.11"/>
<path d="M283,555 L283,405 L970,10 L970,265" stroke-width="4.11"/>
<path d="M1157,-90 L1335,225 L985,425" stroke-width="4.11"/>
<path d="M412,528 L530,465 L530,685 L660,622" stroke-width="4.11"/>
<path d="M758,555 L905,472" stroke-width="4.11"/>
<path d="M805,695 L1030,570" stroke-width="4.11"/>
<path d="M470,890 L735,740" stroke-width="4.11"/>
<path d="M1063,600 L1063,880" stroke-width="4.11"/>
<path d="M740,800 L740,1075" stroke-width="4.11"/>
<path d="M350,1185 L350,1470" stroke-width="4.11"/>
<ellipse cx="292" cy="600" rx="40" ry="52" stroke-width="5.26" transform="rotate(-15 292 600)"/>
<ellipse cx="286" cy="606" rx="19" ry="24" transform="rotate(-15 286 606)"/>
<ellipse cx="284" cy="608" rx="9" ry="11"/>
<path d="M320,558 L375,535"/>
<path d="M335,622 L390,590"/>
<ellipse cx="340" cy="588" rx="9" ry="28" transform="rotate(-20 340 588)"/>
<ellipse cx="353" cy="581" rx="9" ry="28" transform="rotate(-20 353 581)"/>
<ellipse cx="366" cy="574" rx="9" ry="28" transform="rotate(-20 366 574)"/>
<ellipse cx="379" cy="567" rx="9" ry="28" transform="rotate(-20 379 567)"/>
<path d="M610,600 L660,510 L715,480 L735,485 L750,510 L745,530 L710,550 L750,610 L745,650 L800,735 L800,755 L765,805 L750,800 L685,720 L690,690 L710,660 L615,620 Z" stroke-width="4.27"/>
<path d="M672,505 L700,560 L738,625 L735,660 L712,670"/>
<ellipse cx="675" cy="600" rx="18" ry="14" stroke-width="4.93" transform="rotate(30 675 600)"/>
<ellipse cx="738" cy="735" rx="18" ry="14" stroke-width="4.93" transform="rotate(30 738 735)"/>
<path d="M690,690 L720,665 L790,750"/>
<path d="M775,430 L800,380 L830,360 L900,310 L1190,110 L1210,105 L1220,125 L1200,160 L925,340 L880,375 L935,440 L960,480 L950,510 L925,520 L890,505 L845,450 L820,455 L790,445 Z"/>
<path d="M850,355 L1185,128 L1205,135"/>
<path d="M800,380 L815,440"/>
<path d="M830,360 L840,375 L810,445"/>
<path d="M880,375 L860,395 L850,450"/>
<ellipse cx="905" cy="468" rx="18" ry="14" stroke-width="4.93" transform="rotate(30 905 468)"/>
<path d="M1040,200 L1190,108"/>
<ellipse cx="1048" cy="212" rx="9" ry="14" transform="rotate(-30 1048 212)"/>
<ellipse cx="1058" cy="553" rx="40" ry="34" stroke-width="5.91" transform="rotate(20 1058 553)"/>
<ellipse cx="1050" cy="550" rx="17" ry="13" stroke-width="4.93" transform="rotate(20 1050 550)"/>
<path d="M1030,520 L1075,510 L1100,545"/>
<ellipse cx="315" cy="978" rx="158" ry="216" stroke-width="4.60" transform="rotate(-18 315 978)"/>
<ellipse cx="300" cy="986" rx="140" ry="198" transform="rotate(-18 300 986)"/>
<path d="M180,820 C150,870 140,940 160,1010" stroke-width="4.93"/>
<path d="M305,965 C309.2,964.2 325.0,955.8 330,960 C335.0,964.2 337.5,983.3 335,990 C332.5,996.7 318.3,998.3 315,1000"/>
<path d="M340,950 C344.2,949.2 360.0,940.8 365,945 C370.0,949.2 372.5,968.3 370,975 C367.5,981.7 353.3,983.3 350,985"/>
<path d="M372,932 C375.8,931.7 390.7,925.3 395,930 C399.3,934.7 400.5,953.7 398,960 C395.5,966.3 383.0,966.7 380,968"/>
</g>
<g transform="translate(960,2340) scale(0.65049)" stroke-width="2.61">
<path d="M860,180 L1035,180"/>
<path d="M387,280 L387,455"/>
<path d="M190,490 L190,665"/>
<path d="M430,500 L560,522"/>
<path d="M870,590 L1010,612"/>
<path d="M608,665 L608,850"/>
<path d="M1043,715 L1043,895"/>
<path d="M1228,657 L1656.4,742 L1656.4,0"/>
</g>
<g transform="translate(1040,2560) scale(0.30751)" stroke-width="5.09">
<ellipse cx="147" cy="245" rx="60" ry="68" stroke-width="6.63" fill="#000"/>
<ellipse cx="132" cy="240" rx="27" ry="36" stroke-width="4.42" fill="#fff"/>
<ellipse cx="132" cy="240" rx="14" ry="20"/>
<path d="M205,230 L345,255"/>
<path d="M215,290 L340,312"/>
<ellipse cx="343" cy="283" rx="12" ry="30"/>
<ellipse cx="230" cy="262" rx="10" ry="30"/>
<ellipse cx="253" cy="266" rx="10" ry="30"/>
<ellipse cx="276" cy="270" rx="10" ry="30"/>
<ellipse cx="299" cy="274" rx="10" ry="30"/>
<ellipse cx="322" cy="278" rx="10" ry="30"/>
<ellipse cx="545" cy="325" rx="55" ry="72" stroke-width="5.75" transform="rotate(-8 545 325)"/>
<ellipse cx="545" cy="325" rx="25" ry="35" transform="rotate(-8 545 325)"/>
<ellipse cx="558" cy="326" rx="8" ry="15"/>
<path d="M1020,90 L1300,135" stroke-width="7.52"/>
<path d="M1020,90 C1008.3,105.0 965.8,151.7 950,180 C934.2,208.3 927.5,240.0 925,260 C922.5,280.0 933.3,293.3 935,300"/>
<path d="M935,300 C929.2,308.3 907.5,328.3 900,350 C892.5,371.7 889.2,406.7 890,430 C890.8,453.3 898.3,475.8 905,490 C911.7,504.2 925.8,510.8 930,515"/>
<path d="M930,515 L910,540 L915,580 L1000,700 L1135,725 L1145,715 L1100,640"/>
<path d="M1000,690 L1310,480 L1320,470 L1250,340 L1255,300 L1150,120" stroke-width="6.19"/>
<path d="M1300,135 L1410,320 L1385,365 L1440,480 L1445,492 L1320,470"/>
<path d="M1285,140 L1395,325 L1370,365 L1430,485"/>
<ellipse cx="1115" cy="393" rx="80" ry="112" stroke-width="5.75" transform="rotate(-5 1115 393)"/>
<ellipse cx="1085" cy="385" rx="45" ry="62"/>
<ellipse cx="960" cy="395" rx="38" ry="48" stroke-width="9.95"/>
<ellipse cx="952" cy="405" rx="18" ry="28"/>
<path d="M940,300 C947.5,305.0 975.0,313.3 985,330 C995.0,346.7 1001.7,378.3 1000,400 C998.3,421.7 988.3,441.7 975,460 C961.7,478.3 929.2,501.7 920,510"/>
<path d="M1310,480 L1500,520"/>
<path d="M1300,500 L1490,545"/>
<ellipse cx="1520" cy="515" rx="20" ry="32"/>
<path d="M1000,705 L1135,730"/>
</g>
<g transform="translate(1560,2380) scale(0.30751)" stroke-width="5.09">
<path d="M345,895 C350.8,875.8 365.8,820.8 380,780 C394.2,739.2 410.0,688.3 430,650 C450.0,611.7 471.7,576.7 500,550 C528.3,523.3 553.3,505.8 600,490 C646.7,474.2 733.3,460.8 780,455 C826.7,449.2 848.3,451.7 880,455 C911.7,458.3 955.0,471.7 970,475"/>
<path d="M435,895 C440.8,875.8 455.8,820.8 470,780 C484.2,739.2 501.7,685.0 520,650 C538.3,615.0 553.3,590.0 580,570 C606.7,550.0 643.3,539.2 680,530 C716.7,520.8 757.5,516.7 800,515 C842.5,513.3 912.5,519.2 935,520"/>
<ellipse cx="955" cy="517" rx="15" ry="15"/>
<path d="M970,475 L975,497"/>
<path d="M1010,490 C1013.0,489.5 1021.0,482.5 1040,485 C1059.0,487.5 1180.0,512.3 1200,515 C1220.0,517.7 1234.0,509.5 1240,512 C1246.0,514.5 1255.5,521.2 1260,540 C1264.5,558.8 1282.0,675.0 1285,700 C1288.0,725.0 1289.5,781.0 1290,790"/>
<path d="M1005,540 C1023.5,543.8 1170.5,572.0 1190,578 C1209.5,584.0 1196.5,581.8 1200,600 C1203.5,618.2 1220.0,739.0 1225,760 C1230.0,781.0 1243.5,803.0 1250,810 C1256.5,817.0 1281.0,829.0 1290,830 C1299.0,831.0 1335.0,821.0 1340,820"/>
<ellipse cx="1025" cy="497" rx="12" ry="12"/>
<path d="M1010,490 L1005,540"/>
<path d="M1200,515 L1195,560 L1205,600"/>
<path d="M1280,760 L1300,700 L1350,640 L1400,600 L1440,598 L1462,625 L1455,680 L1420,720 L1435,740 L1410,760 L1390,750 L1340,820"/>
<path d="M1280,760 L1275,800 L1290,830"/>
<path d="M1300,700 L1335,770"/>
<path d="M1352,645 L1400,722"/>
<path d="M1385,612 L1440,690"/>
<path d="M1300,690 L1345,635" stroke-width="9.95"/>
<path d="M345,895 L440,910"/>
<path d="M340,920 L445,935"/>
<path d="M340,920 L345,895"/>
<path d="M445,935 L440,910"/>
<path d="M350,935 L335,985"/>
<path d="M430,940 L415,1060"/>
<path d="M380,1000 L375,1050 L340,1090"/>
<path d="M420,1000 L410,1060"/>
<path d="M245,1000 L275,970 L525,1020 L520,1075 L600,1090 L612,1110 L580,1180 L585,1230 L540,1300"/>
<path d="M250,1000 L245,1090 L270,1130 L305,1135"/>
<path d="M430,1005 L430,1060 L460,1075"/>
<path d="M235,1100 C225.8,1100.8 194.2,1096.7 180,1105 C165.8,1113.3 154.2,1131.7 150,1150 C145.8,1168.3 149.2,1198.3 155,1215 C160.8,1231.7 172.5,1244.2 185,1250 C197.5,1255.8 222.5,1250.0 230,1250"/>
<path d="M230,1250 L235,1300 L250,1340"/>
<ellipse cx="205" cy="1172" rx="25" ry="30"/>
<path d="M270,1395 L360,1410 L390,1390 L400,1385"/>
<path d="M290,1380 L330,1345 L370,1330"/>
<ellipse cx="485" cy="1100" rx="24" ry="28" stroke-width="9.95"/>
<ellipse cx="258" cy="1360" rx="21" ry="25" stroke-width="9.95"/>
<ellipse cx="248" cy="1000" rx="11" ry="18" fill="#000"/>
<ellipse cx="350" cy="1165" rx="45" ry="50" stroke-width="9.95"/>
<ellipse cx="346" cy="1165" rx="24" ry="27" stroke-width="7.74"/>
<path d="M305,1120 L370,1085 L420,1110 L630,1450 L625,1480 L600,1495 L585,1490 L500,1345 L470,1350 L465,1380 L565,1530 L550,1560 L525,1565 L510,1550 L310,1210 L300,1160 Z" stroke-width="5.75"/>
<path d="M405,1098 L622,1448" stroke-width="7.96"/>
<path d="M400,1255 L420,1235 L465,1290 L450,1325 L430,1325 Z" stroke-width="6.19"/>
<path d="M415,1265 L430,1255 L450,1295 L440,1310 Z"/>
<path d="M480,1360 L560,1500"/>
<path d="M520,1370 L600,1480"/>
<path d="M0,1135 L180,1170" stroke-width="5.53"/>
<path d="M258,1385 L258,1691" stroke-width="5.53"/>
</g>
<g transform="translate(1560,2380) scale(0.30751)" stroke-width="5.09">
<path d="M350,100 L390,75 L445,100 L445,135 L400,160 L355,135 Z"/>
<path d="M350,100 L400,125 L445,100"/>
<path d="M400,125 L400,160"/>
<path d="M385,90 L415,100 L405,108 L378,98 Z"/>
<path d="M350,135 C336.7,149.2 290.8,187.5 270,220 C249.2,252.5 234.5,293.3 225,330 C215.5,366.7 209.7,410.0 213,440 C216.3,470.0 228.8,493.0 245,510 C261.2,527.0 286.7,538.7 310,542 C333.3,545.3 360.8,542.0 385,530 C409.2,518.0 433.3,495.0 455,470 C476.7,445.0 500.3,411.7 515,380 C529.7,348.3 538.0,320.0 543,280 C548.0,240.0 544.7,163.3 545,140"/>
<path d="M400,160 C387.5,169.2 345.3,190.0 325,215 C304.7,240.0 289.2,277.5 278,310 C266.8,342.5 260.7,383.3 258,410 C255.3,436.7 255.0,453.0 262,470 C269.0,487.0 278.7,512.0 300,512 C321.3,512.0 364.7,490.3 390,470 C415.3,449.7 435.7,420.0 452,390 C468.3,360.0 479.2,333.7 488,290 C496.8,246.3 502.2,155.0 505,128"/>
<path d="M505,128 L545,140"/>
<path d="M290,522 L300,512"/>
</g>
<g transform="translate(2240,960) scale(0.56770)" stroke-width="2.75">
<path d="M692,180 L692,385" stroke-width="2.99"/>
<path d="M310,645 L310,515 L1072,258 L1072,575" stroke-width="2.99"/>
<path d="M1015,630 L768,712" stroke-width="2.99"/>
<path d="M700,735 L500,800" stroke-width="2.99"/>
<path d="M395,845 L15,968" stroke-width="2.99"/>
<path d="M1338,545 L1338,750" stroke-width="2.99"/>
<path d="M1010,800 L818,838" stroke-width="2.99"/>
<path d="M792,885 L792,1085" stroke-width="2.99"/>
<path d="M683,715 L693,697 L715,692 L735,705 L750,780 L770,790 L790,795 L812,830 L812,865 L800,880 L785,880 L745,860 L715,850 L700,835 L683,740 Z" stroke-width="3.35"/>
<ellipse cx="708" cy="730" rx="13" ry="16"/>
<ellipse cx="718" cy="808" rx="13" ry="16"/>
<ellipse cx="792" cy="840" rx="8" ry="16"/>
<path d="M735,715 L742,790 L765,802 L770,862"/>
</g>
<g transform="translate(2780,1280) scale(0.23655)" stroke-width="6.61">
<ellipse cx="320" cy="95" rx="62" ry="75" stroke-width="9.20"/>
<ellipse cx="302" cy="95" rx="33" ry="45" stroke-width="12.94"/>
<path d="M280,40 L340,25 L380,60 L385,110 L350,160 L300,170"/>
<path d="M160,110 L280,70"/>
<path d="M185,180 L300,150"/>
<ellipse cx="175" cy="145" rx="20" ry="38" transform="rotate(-15 175 145)"/>
<ellipse cx="205" cy="138" rx="14" ry="40" transform="rotate(-15 205 138)"/>
<ellipse cx="230" cy="130" rx="14" ry="40" transform="rotate(-15 230 130)"/>
<ellipse cx="255" cy="122" rx="14" ry="40" transform="rotate(-15 255 122)"/>
<ellipse cx="280" cy="114" rx="14" ry="40" transform="rotate(-15 280 114)"/>
<path d="M150,545 L165,520 L245,495 L255,600 L180,600 Z" fill="#111"/>
<ellipse cx="285" cy="540" rx="24" ry="105" stroke-width="8.05" transform="rotate(-10 285 540)"/>
<path d="M310,470 L365,465 L375,500 L365,600 L320,600 Z" stroke-width="8.05"/>
<path d="M340,530 L365,530 L365,600 L340,600 Z"/>
<path d="M375,540 L430,548 L520,540 L1215,395 L1500,350 L1520,358 L1525,385 L1500,395 L1240,445 L520,590 L450,605 L385,590" stroke-width="7.47"/>
<path d="M385,560 L450,575 L520,570 L1230,425"/>
<path d="M385,575 L450,590 L520,582 L1235,440"/>
<path d="M1215,395 L1240,445"/>
<path d="M1290,395 L1310,420"/>
</g>
<g transform="translate(2380,1290) scale(0.15376)" stroke-width="10.17">
<path d="M810,770 L820,700 L780,300 L750,210 L690,155 L620,150 L235,275 L160,300 L165,340 L245,920 L340,945 L380,975 L440,1100 L445,1170 L470,1210 L900,1490 L960,1490 L1040,1440 L1235,1215 L1310,1190 L1340,1220 L1380,1215 L1380,1155 L1230,1070 L1160,1095 L1130,1065 L1135,1005 L990,930 L940,945 L880,920 L860,830 L820,775 L720,720 L640,650 L590,580 L560,470 L520,430 L330,290 L250,295 L200,320" stroke-width="11.50"/>
<path d="M810,775 L840,900 L890,1480"/>
<path d="M830,800 L905,1470"/>
<path d="M330,280 L540,420 L590,470 L610,580 L660,650 L760,720 L810,770" stroke-width="13.27"/>
<path d="M235,275 L620,150" stroke-width="15.04"/>
<ellipse cx="292" cy="458" rx="48" ry="70" stroke-width="15.92" transform="rotate(-15 292 458)"/>
<ellipse cx="503" cy="325" rx="48" ry="68" stroke-width="14.15" transform="rotate(15 503 325)"/>
<ellipse cx="655" cy="430" rx="50" ry="68" stroke-width="14.15" transform="rotate(15 655 430)"/>
<ellipse cx="725" cy="890" rx="43" ry="63" stroke-width="15.92" transform="rotate(-15 725 890)"/>
<ellipse cx="562" cy="970" rx="66" ry="98" stroke-width="15.04" transform="rotate(-15 562 970)"/>
<ellipse cx="765" cy="1178" rx="46" ry="66" stroke-width="15.04" transform="rotate(-15 765 1178)"/>
<ellipse cx="300" cy="462" rx="25" ry="50" transform="rotate(-15 300 462)"/>
<ellipse cx="735" cy="895" rx="20" ry="42" transform="rotate(-15 735 895)"/>
<ellipse cx="770" cy="1182" rx="24" ry="45" transform="rotate(-15 770 1182)"/>
<path d="M305,655 L385,645 L400,725 L320,735 Z" stroke-width="12.38"/>
<path d="M900,1075 L960,1040 L1075,1100 L1075,1160 L940,1225 L910,1180 Z" stroke-width="11.50"/>
<ellipse cx="945" cy="1100" rx="34" ry="24"/>
<path d="M940,1160 L1075,1100"/>
<path d="M940,1160 L940,1225"/>
<path d="M920,1290 L990,1280 L1015,1320 L980,1360 L925,1370" stroke-width="12.38"/>
<path d="M1075,1020 L1135,1010 L1140,1060 L1090,1060 Z" stroke-width="12.38"/>
<ellipse cx="1345" cy="1200" rx="28" ry="28"/>
<path d="M900,1480 L1010,1430 L1230,1210" stroke-width="16.81"/>
<path d="M350,960 L400,1050 L440,1100" stroke-width="17.69"/>
</g>
<g transform="translate(1760,1350) scale(0.50000)" stroke-width="2.03">
<path d="M655,155 C665.8,150.5 695.8,132.2 720,128 C744.2,123.8 778.3,134.7 800,130 C821.7,125.3 833.3,106.7 850,100 C866.7,93.3 881.7,88.3 900,90 C918.3,91.7 936.7,95.0 960,110 C983.3,125.0 1013.3,153.3 1040,180 C1066.7,206.7 1093.3,241.7 1120,270 C1146.7,298.3 1173.3,329.2 1200,350 C1226.7,370.8 1243.3,385.8 1280,395 C1316.7,404.2 1380.0,402.5 1420,405 C1460.0,407.5 1493.3,402.5 1520,410 C1546.7,417.5 1565.0,431.7 1580,450 C1595.0,468.3 1604.8,487.5 1610,520 C1615.2,552.5 1608.3,616.7 1611,645 C1613.7,673.3 1616.0,675.0 1626,690 C1636.0,705.0 1653.7,717.8 1671,735 C1688.3,752.2 1715.7,775.8 1730,793 C1744.3,810.2 1750.7,823.8 1757,838 C1763.3,852.2 1766.5,864.5 1768,878 C1769.5,891.5 1770.5,901.7 1766,919 C1761.5,936.3 1745.2,971.5 1741,982"/>
<path d="M655,155 C652.5,170.8 652.5,224.2 640,250 C627.5,275.8 593.3,290.0 580,310 C566.7,330.0 558.3,348.3 560,370 C561.7,391.7 585.8,421.7 590,440 C594.2,458.3 585.8,473.3 585,480"/>
<path d="M585,480 C570.8,485.0 517.5,499.2 500,510 C482.5,520.8 485.0,530.0 480,545 C475.0,560.0 471.7,590.8 470,600"/>
<path d="M480,560 L600,520 L740,650"/>
<path d="M600,520 L600,610"/>
<path d="M500,575 C516.7,579.2 560.0,579.2 600,600 C640.0,620.8 716.7,683.3 740,700"/>
<path d="M520,510 C536.7,518.3 582.5,530.0 620,560 C657.5,590.0 724.2,668.3 745,690"/>
<path d="M668,160 C673.3,183.3 688.0,233.3 700,300 C712.0,366.7 732.5,496.7 740,560 C747.5,623.3 751.7,641.7 745,680 C738.3,718.3 710.8,766.7 700,790 C689.2,813.3 683.3,815.0 680,820"/>
<path d="M690,150 C695.0,171.7 707.5,211.7 720,280 C732.5,348.3 756.7,490.0 765,560 C773.3,630.0 774.2,660.0 770,700 C765.8,740.0 745.0,783.3 740,800"/>
<path d="M740,140 C744.2,163.3 760.8,256.7 765,280"/>
<path d="M795,130 C800.8,158.3 817.5,228.3 830,300 C842.5,371.7 858.3,490.0 870,560 C881.7,630.0 891.7,670.0 900,720 C908.3,770.0 917.5,813.3 920,860 C922.5,906.7 921.7,960.0 915,1000 C908.3,1040.0 887.5,1070.0 880,1100 C872.5,1130.0 871.7,1166.7 870,1180"/>
<path d="M860,100 C863.3,125.0 872.5,200.0 880,250 C887.5,300.0 896.7,348.3 905,400 C913.3,451.7 920.8,510.0 930,560 C939.2,610.0 955.0,660.0 960,700 C965.0,740.0 960.0,783.3 960,800"/>
<path d="M895,95 C899.2,120.8 913.3,209.2 920,250 C926.7,290.8 932.5,325.0 935,340"/>
<path d="M810,680 C813.3,700.0 827.5,753.3 830,800 C832.5,846.7 825.8,933.3 825,960"/>
<path d="M855,1040 C852.5,1050.0 845.8,1082.5 840,1100 C834.2,1117.5 823.3,1137.5 820,1145"/>
<path d="M850,300 L870,295 L990,390 L1010,440 L1040,560 L1030,580 L940,600 L930,560 L880,440 L850,320 Z" stroke-width="2.30"/>
<path d="M860,310 L980,400 L1000,445 L1028,565"/>
<ellipse cx="870" cy="355" rx="9" ry="14"/>
<ellipse cx="900" cy="395" rx="10" ry="18" stroke-width="2.65"/>
<ellipse cx="945" cy="435" rx="11" ry="17" stroke-width="2.65"/>
<ellipse cx="885" cy="440" rx="7" ry="11"/>
<path d="M950,495 L985,485 L995,515 L965,525 Z"/>
<path d="M985,390 L1005,430"/>
<path d="M920,595 L1525,530"/>
<path d="M920,595 C915.8,602.5 897.5,622.5 895,640 C892.5,657.5 899.2,686.7 905,700 C910.8,713.3 925.8,716.7 930,720"/>
<path d="M930,720 L1240,670"/>
<path d="M1040,560 L1580,455"/>
<path d="M1140,615 L1500,540 L1520,530 L1530,545 L1510,570 L1545,600 L1540,620 L1160,690 L1140,650 Z"/>
<path d="M1150,640 L1290,610 L1300,585 L1350,570 L1360,590 L1500,560"/>
<path d="M1545,600 L1610,590"/>
<path d="M1235,680 L1480,625 L1500,640 L1480,720 L1450,790 L1380,800 L1340,830 L1270,820 L1260,780 Z" stroke-width="2.30"/>
<ellipse cx="1290" cy="750" rx="11" ry="20" stroke-width="2.65"/>
<ellipse cx="1432" cy="722" rx="11" ry="22" stroke-width="2.65"/>
<path d="M1270,820 C1280.0,828.3 1308.3,863.3 1330,870 C1351.7,876.7 1380.0,868.3 1400,860 C1420.0,851.7 1426.7,841.7 1450,820 C1473.3,798.3 1513.3,758.3 1540,730 C1566.7,701.7 1598.3,663.3 1610,650"/>
<path d="M1265,835 C1275.8,843.3 1305.8,878.8 1330,885 C1354.2,891.2 1386.7,882.0 1410,872 C1433.3,862.0 1445.0,847.8 1470,825 C1495.0,802.2 1535.0,761.7 1560,735 C1585.0,708.3 1610.0,676.7 1620,665"/>
<path d="M1490,640 L1470,720 L1445,780"/>
<path d="M1340,920 C1353.3,911.7 1394.7,885.8 1420,870 C1445.3,854.2 1474.0,834.0 1492,825 C1510.0,816.0 1516.0,813.8 1528,816 C1540.0,818.2 1554.7,826.2 1564,838 C1573.3,849.8 1580.0,870.5 1584,887 C1588.0,903.5 1585.8,923.5 1588,937 C1590.2,950.5 1596.2,953.0 1597,968 C1597.8,983.0 1593.7,1017.2 1593,1027"/>
<path d="M1420,887 C1427.5,882.5 1451.7,863.7 1465,860 C1478.3,856.3 1490.3,859.0 1500,865 C1509.7,871.0 1517.7,880.3 1523,896 C1528.3,911.7 1532.7,935.0 1532,959 C1531.3,983.0 1525.0,1019.7 1519,1040 C1513.0,1060.3 1499.8,1074.2 1496,1081" stroke-width="2.48"/>
<path d="M1426,890 C1433.0,886.3 1456.7,871.0 1468,868 C1479.3,865.0 1486.3,866.7 1494,872 C1501.7,877.3 1509.2,885.5 1514,900 C1518.8,914.5 1523.5,936.3 1523,959 C1522.5,981.7 1516.5,1016.7 1511,1036 C1505.5,1055.3 1493.5,1068.5 1490,1075"/>
<path d="M1424,896 C1421.8,902.8 1413.2,924.2 1411,937 C1408.8,949.8 1407.3,961.0 1411,973 C1414.7,985.0 1419.5,994.8 1433,1009 C1446.5,1023.2 1482.2,1049.8 1492,1058"/>
<path d="M1581,732 L1730,818"/>
<path d="M1638,901 L1712,854"/>
<path d="M1617,991 L1748,840"/>
<path d="M1766,874 C1755.5,883.7 1725.5,908.0 1703,932 C1680.5,956.0 1661.7,994.7 1631,1018 C1600.3,1041.3 1542.2,1060.8 1519,1072 C1495.8,1083.2 1496.5,1082.8 1492,1085"/>
<path d="M1761,896 C1749.0,905.8 1711.5,934.0 1689,955 C1666.5,976.0 1649.8,1004.0 1626,1022 C1602.2,1040.0 1566.2,1052.5 1546,1063 C1525.8,1073.5 1511.8,1081.3 1505,1085"/>
<ellipse cx="1440" cy="1165" rx="50" ry="62" stroke-width="2.65" transform="rotate(-20 1440 1165)"/>
<ellipse cx="1438" cy="1165" rx="27" ry="35" transform="rotate(-20 1438 1165)"/>
<path d="M1420,1150 L1460,1180"/>
<path d="M1380,1105 C1386.7,1101.7 1405.0,1086.7 1420,1085 C1435.0,1083.3 1453.3,1082.5 1470,1095 C1486.7,1107.5 1510.8,1140.8 1520,1160 C1529.2,1179.2 1526.7,1195.0 1525,1210 C1523.3,1225.0 1517.5,1245.0 1510,1250 C1502.5,1255.0 1485.0,1241.7 1480,1240"/>
<path d="M1380,1105 C1379.2,1117.5 1371.7,1160.8 1375,1180 C1378.3,1199.2 1385.8,1209.2 1400,1220 C1414.2,1230.8 1450.0,1240.8 1460,1245"/>
<path d="M1270,980 L1290,990 L1270,1020 L1310,1100 L1310,1190 L1400,1215"/>
<path d="M1090,710 L1290,830"/>
<path d="M1080,850 L1470,1075"/>
<path d="M1240,840 L1200,880"/>
<path d="M970,740 L1050,715 L1065,760 L1080,900 L1110,1000 L1100,1050 L1040,1100 L1020,1140 L940,1135 L910,1180" stroke-width="2.30"/>
<path d="M970,740 C970.8,745.0 978.3,760.0 975,770 C971.7,780.0 952.5,778.3 950,800 C947.5,821.7 955.8,866.7 960,900 C964.2,933.3 975.0,970.0 975,1000 C975.0,1030.0 966.7,1057.5 960,1080 C953.3,1102.5 939.2,1125.8 935,1135"/>
<path d="M1060,720 C1062.5,728.3 1069.7,740.0 1075,770 C1080.3,800.0 1084.5,861.7 1092,900 C1099.5,938.3 1115.3,983.3 1120,1000"/>
<ellipse cx="990" cy="815" rx="9" ry="18" stroke-width="2.65"/>
<path d="M990,860 L1030,850 L1045,900 L1000,910 Z" stroke-width="2.48"/>
<ellipse cx="1045" cy="985" rx="28" ry="35" transform="rotate(-15 1045 985)"/>
<path d="M985,1000 L1000,990 L1030,1050 L1000,1070 L985,1050 Z"/>
<ellipse cx="985" cy="1105" rx="9" ry="14" stroke-width="2.65"/>
<ellipse cx="700" cy="935" rx="84" ry="104" stroke-width="2.48" transform="rotate(-25 700 935)"/>
<ellipse cx="692" cy="930" rx="72" ry="94" stroke-width="2.30" transform="rotate(-25 692 930)"/>
<ellipse cx="708" cy="945" rx="84" ry="100" transform="rotate(-25 708 945)"/>
<path d="M680,800 C686.7,798.3 708.3,786.7 720,790 C731.7,793.3 738.3,801.7 750,820 C761.7,838.3 781.7,870.0 790,900 C798.3,930.0 803.3,973.3 800,1000 C796.7,1026.7 786.7,1051.7 770,1060 C753.3,1068.3 711.7,1051.7 700,1050"/>
<path d="M650,1050 C645.0,1066.7 630.0,1120.0 620,1150 C610.0,1180.0 595.0,1216.7 590,1230"/>
<path d="M700,1120 L680,1180"/>
<path d="M210,980 L215,975 L260,968"/>
<path d="M205,985 L330,1075 L340,1085"/>
<path d="M215,975 L335,1065 L340,1085"/>
<path d="M55,1150 C54.2,1141.7 45.8,1114.2 50,1100 C54.2,1085.8 63.3,1071.7 80,1065 C96.7,1058.3 131.7,1065.8 150,1060 C168.3,1054.2 180.8,1042.5 190,1030 C199.2,1017.5 202.5,992.5 205,985"/>
<path d="M55,1090 L450,1360"/>
<path d="M330,1080 L560,1240"/>
</g>
<g transform="translate(1760,1350) scale(0.50000)" stroke-width="3.13">
<path d="M470,772 L715,772" stroke-width="3.40"/>
<path d="M222,1460 L1045,985" stroke-width="3.40"/>
<path d="M1118,940 L1225,885 L1225,1825 L1390,1740" stroke-width="3.40"/>
<path d="M935,1130 L935,2015 L885,2040" stroke-width="3.40"/>
<path d="M785,1620 L555,1580 L555,2181" stroke-width="3.40"/>
<path d="M125,1575 L125,1805" stroke-width="3.40"/>
<path d="M0,1585 L95,1530" stroke-width="3.40"/>
<path d="M1380,1865 L1380,2095" stroke-width="3.40"/>
<path d="M1672,1610 L1672,1850" stroke-width="3.40"/>
<path d="M820,2130 L820,2181" stroke-width="3.40"/>
<ellipse cx="105" cy="1530" rx="30" ry="42" stroke-width="4.35" transform="rotate(-15 105 1530)"/>
<ellipse cx="105" cy="1530" rx="13" ry="17" transform="rotate(-15 105 1530)"/>
<path d="M90,1490 C102.5,1483.3 147.5,1454.2 165,1450 C182.5,1445.8 188.3,1456.7 195,1465 C201.7,1473.3 204.2,1490.8 205,1500 C205.8,1509.2 200.8,1516.7 200,1520"/>
<path d="M200,1520 L130,1568"/>
<ellipse cx="800" cy="2095" rx="32" ry="35" stroke-width="4.08" fill="#000"/>
<ellipse cx="793" cy="2093" rx="15" ry="18" fill="#fff"/>
<path d="M785,2085 L800,2102" stroke-width="4.08"/>
<path d="M830,2075 L870,2050"/>
<path d="M845,2105 L880,2072"/>
<ellipse cx="873" cy="2060" rx="8" ry="15" transform="rotate(-30 873 2060)"/>
<ellipse cx="842" cy="2082" rx="8" ry="17" transform="rotate(-30 842 2082)"/>
<ellipse cx="852" cy="2075" rx="8" ry="17" transform="rotate(-30 852 2075)"/>
<ellipse cx="862" cy="2068" rx="8" ry="17" transform="rotate(-30 862 2068)"/>
<path d="M1365,1445 L1375,1440 L1420,1445 L1410,1470 L1400,1540 L1410,1560 L1405,1580 L1440,1680 L1465,1770 L1440,1790 L1400,1810 L1360,1865 L1335,1870 L1320,1850 L1330,1830 L1345,1810 L1350,1700 L1380,1570 L1355,1510 L1350,1490 Z" stroke-width="3.54"/>
<ellipse cx="1405" cy="1715" rx="25" ry="35" transform="rotate(-15 1405 1715)"/>
<path d="M1380,1570 L1400,1560"/>
<path d="M1350,1490 L1400,1500"/>
<path d="M1395,1585 L1365,1780"/>
<ellipse cx="1340" cy="1848" rx="17" ry="22" stroke-width="4.35"/>
</g>
<g transform="translate(1960,1860) scale(0.26021)" stroke-width="3.91">
<path d="M575,1125 L605,1130 L605,1225 L635,1232 L640,1260 L770,1560 L810,1568 L840,1500 L870,1490 L895,1510" stroke-width="4.42"/>
<path d="M895,1510 C899.2,1521.7 905.8,1560.0 920,1580 C934.2,1600.0 956.7,1618.7 980,1630 C1003.3,1641.3 1031.7,1648.8 1060,1648 C1088.3,1647.2 1121.7,1640.5 1150,1625 C1178.3,1609.5 1209.2,1585.8 1230,1555 C1250.8,1524.2 1266.7,1465.8 1275,1440 C1283.3,1414.2 1279.2,1406.7 1280,1400" stroke-width="4.42"/>
<path d="M1200,1400 C1208.3,1395.8 1235.0,1376.7 1250,1375 C1265.0,1373.3 1280.0,1383.3 1290,1390 C1300.0,1396.7 1306.7,1410.8 1310,1415"/>
<path d="M1310,1415 L1390,1420 L1415,1355 L1410,1330 L1160,930 L1130,870 L1155,700 L1120,600 L1110,430 L1035,300" stroke-width="4.42"/>
<path d="M1290,1395 L1330,1390 L1350,1340 L1120,980 L1075,880 L1065,790 L1085,720 L1065,560 L1020,480"/>
<path d="M575,1125 L660,790 L680,760 L730,760"/>
<path d="M600,1130 L680,800 L760,740"/>
<path d="M640,1230 L700,880 L780,760 L850,690 L905,685" stroke-width="4.42"/>
<path d="M905,680 L1000,480 L970,400 L900,360 L850,365"/>
<ellipse cx="862" cy="828" rx="24" ry="33"/>
<ellipse cx="885" cy="963" rx="22" ry="30"/>
<ellipse cx="745" cy="1160" rx="23" ry="30"/>
<ellipse cx="827" cy="1217" rx="22" ry="30"/>
<ellipse cx="1187" cy="1247" rx="24" ry="33"/>
<ellipse cx="975" cy="1157" rx="45" ry="65" stroke-width="4.42"/>
<path d="M1000,1110 C998.3,1118.3 989.2,1143.3 990,1160 C990.8,1176.7 1002.5,1201.7 1005,1210"/>
<ellipse cx="1092" cy="1175" rx="40" ry="52" stroke-width="4.42"/>
<ellipse cx="1102" cy="1178" rx="17" ry="40" transform="rotate(10 1102 1178)"/>
<ellipse cx="1055" cy="1430" rx="65" ry="90" stroke-width="4.42"/>
<path d="M1100,1370 C1095.8,1380.0 1080.0,1408.3 1075,1430 C1070.0,1451.7 1070.8,1488.3 1070,1500"/>
<path d="M1320,1170 L1390,1180 L1415,1210 L1405,1260 L1370,1275" stroke-width="4.76"/>
<ellipse cx="1385" cy="1225" rx="28" ry="45" stroke-width="5.10"/>
<path d="M1110,430 C1136.7,441.7 1231.7,478.3 1270,500 C1308.3,521.7 1319.2,535.0 1340,560 C1360.8,585.0 1381.7,620.0 1395,650 C1408.3,680.0 1416.7,715.0 1420,740 C1423.3,765.0 1421.7,781.7 1415,800 C1408.3,818.3 1394.2,836.7 1380,850 C1365.8,863.3 1345.0,874.2 1330,880 C1315.0,885.8 1296.7,884.2 1290,885"/>
<path d="M1290,885 L1085,850"/>
<ellipse cx="1260" cy="700" rx="48" ry="68" stroke-width="4.42" transform="rotate(-20 1260 700)"/>
<path d="M1290,650 C1292.0,660.8 1302.0,696.3 1302,715 C1302.0,733.7 1292.0,754.2 1290,762"/>
<path d="M1325,545 L1691,340"/>
<path d="M1065,500 L1110,480"/>
<path d="M920,670 L1080,725"/>
<path d="M660,240 L700,235 L850,330 L870,360 L940,375 L985,420 L1010,470" stroke-width="4.42"/>
<path d="M700,255 L840,345 L865,375 L930,390 L975,440"/>
<path d="M740,270 L860,335" stroke-width="8.49"/>
<path d="M730,290 L640,440 L600,575 L560,570 L390,410"/>
<path d="M880,400 L740,670"/>
<path d="M930,400 L820,630 L850,670 L900,690"/>
<path d="M985,440 L890,660"/>
<path d="M660,240 L620,290 L520,340 L430,380"/>
<path d="M720,820 L740,700 L820,640"/>
<path d="M65,705 L385,525 L440,560 L435,600 L460,610 L520,690 L490,730 L510,770 L560,760 L580,790 L565,820 L470,860" stroke-width="4.42"/>
<path d="M65,705 L80,770 L100,770 L310,640" stroke-width="4.42"/>
<path d="M95,725 L300,600"/>
<path d="M470,860 L440,800 L400,700 L340,640 L300,600"/>
<path d="M400,575 L420,620 L450,640 L500,720"/>
<path d="M350,690 C351.7,701.7 351.7,741.7 360,760 C368.3,778.3 386.7,791.7 400,800 C413.3,808.3 433.3,808.3 440,810"/>
<ellipse cx="390" cy="730" rx="38" ry="68" transform="rotate(-20 390 730)"/>
<path d="M560,800 L470,850 L235,985 L250,1020 L270,1020 L480,880" stroke-width="4.42"/>
<path d="M250,990 L470,865"/>
<path d="M90,580 L140,550 L340,410 L450,340"/>
<path d="M135,550 L290,800 L340,880 L400,970 L430,1000 L470,995 L570,1120"/>
<path d="M490,1020 L570,1120" stroke-width="5.95"/>
<path d="M320,410 L660,240"/>
<path d="M90,580 L100,650"/>
</g>
<g transform="translate(2479.4,1991.8) scale(0.30751)" stroke-width="5.09">
<path d="M350,100 L390,75 L445,100 L445,135 L400,160 L355,135 Z"/>
<path d="M350,100 L400,125 L445,100"/>
<path d="M400,125 L400,160"/>
<path d="M385,90 L415,100 L405,108 L378,98 Z"/>
<path d="M350,135 C336.7,149.2 290.8,187.5 270,220 C249.2,252.5 234.5,293.3 225,330 C215.5,366.7 209.7,410.0 213,440 C216.3,470.0 228.8,493.0 245,510 C261.2,527.0 286.7,538.7 310,542 C333.3,545.3 360.8,542.0 385,530 C409.2,518.0 433.3,495.0 455,470 C476.7,445.0 500.3,411.7 515,380 C529.7,348.3 538.0,320.0 543,280 C548.0,240.0 544.7,163.3 545,140"/>
<path d="M400,160 C387.5,169.2 345.3,190.0 325,215 C304.7,240.0 289.2,277.5 278,310 C266.8,342.5 260.7,383.3 258,410 C255.3,436.7 255.0,453.0 262,470 C269.0,487.0 278.7,512.0 300,512 C321.3,512.0 364.7,490.3 390,470 C415.3,449.7 435.7,420.0 452,390 C468.3,360.0 479.2,333.7 488,290 C496.8,246.3 502.2,155.0 505,128"/>
<path d="M505,128 L545,140"/>
<path d="M290,522 L300,512"/>
</g>
<g transform="translate(2480,1960) scale(0.50366)" stroke-width="3.11">
<path d="M228,395 L228,622" stroke-width="3.38"/>
<path d="M858,1030 L1090,1030" stroke-width="3.38"/>
<path d="M1145,1310 L1145,1515" stroke-width="3.38"/>
<path d="M873,1668 L1108,1668" stroke-width="3.38"/>
<path d="M1090,265 L1165,232 L1195,240 L1195,330 L1130,365 L1090,350 Z" stroke-width="3.51"/>
<path d="M1090,265 L1130,280 L1195,240"/>
<path d="M1130,280 L1130,365"/>
<path d="M1128,262 L1150,255 L1150,268"/>
<path d="M1105,355 C1105.8,367.5 1105.8,402.5 1110,430 C1114.2,457.5 1126.7,505.0 1130,520"/>
<path d="M1125,365 C1127.5,377.5 1135.8,414.2 1140,440 C1144.2,465.8 1148.3,506.7 1150,520"/>
<path d="M1180,340 C1180.0,350.0 1185.0,378.3 1180,400 C1175.0,421.7 1156.7,450.0 1150,470 C1143.3,490.0 1141.7,511.7 1140,520"/>
<path d="M1165,350 C1164.2,361.7 1165.0,395.0 1160,420 C1155.0,445.0 1139.2,486.7 1135,500"/>
<path d="M1117,525 L1117,725 L1135,738 L1168,730 L1170,525" stroke-width="3.51"/>
<ellipse cx="1143" cy="522" rx="27" ry="10"/>
<ellipse cx="1155" cy="730" rx="12" ry="6"/>
<path d="M1117,970 L1117,765 L1140,760 L1170,762 L1170,970" stroke-width="3.51"/>
<path d="M1120,768 C1122.5,769.2 1130.0,775.5 1135,775 C1140.0,774.5 1147.5,766.7 1150,765"/>
<path d="M1090,955 C1090,925 1197,925 1197,955" stroke-width="3.51"/>
<path d="M1090,960 C1095,985 1192,985 1197,960"/>
<path d="M1090,955 L1090,1075 L1082,1085 L1082,1140 L1100,1160 L1100,1190 L1115,1260 L1170,1260 L1185,1190 L1185,1160 L1205,1140 L1205,1085 L1197,1075 L1197,955" stroke-width="3.78"/>
<path d="M1090,1075 C1100,1095 1190,1095 1197,1075"/>
<path d="M1082,1110 C1100,1130 1190,1130 1205,1110" stroke-width="5.40"/>
<path d="M1100,1160 L1185,1160" stroke-width="4.73"/>
<path d="M1120,1170 L1120,1240" stroke-width="5.40"/>
<path d="M1145,1180 L1145,1250" stroke-width="5.40"/>
<path d="M1168,1170 L1168,1235" stroke-width="5.40"/>
<path d="M1100,1190 C1110,1205 1175,1205 1185,1190"/>
<path d="M1135,1260 L1135,1285 L1155,1285 L1155,1260"/>
<path d="M1130,1575 C1129.7,1569.2 1125.5,1549.5 1128,1540 C1130.5,1530.5 1139.7,1520.5 1145,1518 C1150.3,1515.5 1157.8,1508.0 1160,1525 C1162.2,1542.0 1158.3,1604.2 1158,1620" stroke-width="3.78"/>
<path d="M1108,1620 L1108,1712" stroke-width="4.05"/>
<path d="M1182,1620 L1182,1712" stroke-width="4.05"/>
<ellipse cx="1145" cy="1620" rx="37" ry="10" stroke-width="4.05"/>
<path d="M1108,1628 C1120,1640 1170,1640 1182,1628" stroke-width="4.05"/>
<path d="M1108,1638 C1120,1650 1170,1650 1182,1638" stroke-width="4.05"/>
<path d="M1108,1648 C1120,1660 1170,1660 1182,1648" stroke-width="4.05"/>
<path d="M1108,1658 C1120,1670 1170,1670 1182,1658" stroke-width="4.05"/>
<path d="M1108,1668 C1120,1680 1170,1680 1182,1668" stroke-width="4.05"/>
<path d="M1108,1678 C1120,1690 1170,1690 1182,1678" stroke-width="4.05"/>
<path d="M1108,1688 C1120,1700 1170,1700 1182,1688" stroke-width="4.05"/>
<path d="M1108,1698 C1120,1710 1170,1710 1182,1698" stroke-width="4.05"/>
<path d="M1108,1708 C1120,1720 1170,1720 1182,1708" stroke-width="4.05"/>
<path d="M1160,1712 C1160.2,1735.2 1162.8,1964.3 1162,1990 C1161.2,2015.7 1152.7,2017.3 1150,2020 C1147.3,2022.7 1131.8,2025.8 1130,2022 C1128.2,2018.2 1128.2,1978.9 1128,1975" stroke-width="3.78"/>
</g>
<g transform="translate(1560,1660) scale(0.61502)" stroke-width="2.54">
<path d="M195,625 L195,815" stroke-width="2.76"/>
<path d="M427,770 L427,960" stroke-width="2.76"/>
<path d="M293,803 L400,745" stroke-width="2.76"/>
<path d="M993,1225 L993,1410" stroke-width="2.76"/>
<ellipse cx="205" cy="852" rx="30" ry="36" stroke-width="3.32" fill="#000"/>
<path d="M180,850 L192,838 L212,842 L217,868 L204,884 L184,876 Z" stroke-width="2.21" fill="#fff"/>
<path d="M225,825 L265,810"/>
<path d="M240,862 L270,842"/>
<ellipse cx="266" cy="826" rx="8" ry="15" transform="rotate(-25 266 826)"/>
<ellipse cx="238" cy="840" rx="8" ry="17" transform="rotate(-25 238 840)"/>
<ellipse cx="247" cy="836" rx="8" ry="17" transform="rotate(-25 247 836)"/>
<ellipse cx="256" cy="832" rx="8" ry="17" transform="rotate(-25 256 832)"/>
</g>
<g transform="translate(516.9000000000001,3605.6) scale(0.34341)" stroke-width="4.55">
<ellipse cx="225" cy="393" rx="105" ry="128" stroke-width="5.54" transform="rotate(-8 225 393)"/>
<ellipse cx="210" cy="400" rx="62" ry="88" transform="rotate(-8 210 400)"/>
<path d="M208,368 L215,405 L206,440" stroke-width="7.92"/>
<path d="M215,270 L245,225 L300,235 L300,180 L325,175 L385,195 L400,250 L410,400 L370,460 L330,470"/>
<path d="M245,225 L340,290 L350,470"/>
<path d="M265,215 L355,280 L370,455"/>
<path d="M300,235 L385,290 L395,420"/>
<path d="M260,290 C268.3,298.3 298.3,316.7 310,340 C321.7,363.3 326.7,415.0 330,430"/>
<path d="M280,280 C288.3,288.3 319.2,306.7 330,330 C340.8,353.3 342.5,405.0 345,420"/>
<path d="M305,180 L330,195 L385,210"/>
</g>
<g transform="translate(240,3040) scale(0.65050)" stroke-width="2.40">
</g>
<g transform="translate(500,3280) scale(0.42579)" stroke-width="3.67">
<path d="M40,815 C41.7,799.2 45.0,749.2 50,720 C55.0,690.8 60.0,668.3 70,640 C80.0,611.7 93.3,576.7 110,550 C126.7,523.3 145.0,501.7 170,480 C195.0,458.3 221.7,439.2 260,420 C298.3,400.8 350.0,385.0 400,365 C450.0,345.0 510.0,323.3 560,300 C610.0,276.7 651.7,251.7 700,225 C748.3,198.3 810.0,162.5 850,140 C890.0,117.5 913.3,101.7 940,90 C966.7,78.3 988.3,72.5 1010,70 C1031.7,67.5 1053.3,70.0 1070,75 C1086.7,80.0 1096.7,85.8 1110,100 C1123.3,114.2 1135.0,128.3 1150,160 C1165.0,191.7 1183.3,251.7 1200,290 C1216.7,328.3 1228.3,356.7 1250,390 C1271.7,423.3 1298.3,460.0 1330,490 C1361.7,520.0 1405.0,546.7 1440,570 C1475.0,593.3 1515.0,611.7 1540,630 C1565.0,648.3 1576.7,661.7 1590,680 C1603.3,698.3 1614.2,720.0 1620,740 C1625.8,760.0 1627.5,770.8 1625,800 C1622.5,829.2 1608.3,895.8 1605,915" stroke-width="2.40"/>
<path d="M175,640 C212.5,623.3 312.5,575.0 400,540 C487.5,505.0 600.0,462.5 700,430 C800.0,397.5 916.7,367.5 1000,345 C1083.3,322.5 1166.7,303.3 1200,295" stroke-width="2.40"/>
<path d="M65,685 C87.5,693.3 152.5,717.5 200,735 C247.5,752.5 310.0,772.5 350,790 C390.0,807.5 411.7,820.0 440,840 C468.3,860.0 476.7,871.7 520,910 C563.3,948.3 650.0,1026.7 700,1070 C750.0,1113.3 790.0,1146.7 820,1170 C850.0,1193.3 870.0,1203.3 880,1210" stroke-width="3.19"/>
<path d="M880,1210 L1620,765" stroke-width="4.47"/>
<ellipse cx="965" cy="665" rx="83" ry="130" stroke-width="2.87" transform="rotate(-15 965 665)"/>
<ellipse cx="985" cy="655" rx="62" ry="108" stroke-width="2.87" transform="rotate(-15 985 655)"/>
<path d="M955,575 L985,570 L1045,640 L1050,710 L1010,720 L965,650 Z" stroke-width="2.87"/>
<path d="M965,575 L968,650" stroke-width="2.87"/>
<path d="M1040,610 C1042.0,615.0 1050.7,630.8 1052,640 C1053.3,649.2 1048.7,660.8 1048,665" stroke-width="2.87"/>
<path d="M385,998 L965,655" stroke-width="3.99"/>
</g>
<g transform="translate(240,3040) scale(0.65050)" stroke-width="2.40">
<path d="M975,1160 L975,1340" stroke-width="2.61"/>
</g>
<g transform="translate(280,3640) scale(0.24837)" stroke-width="6.30">
<path d="M800,755 L800,1090 L1350,775 L1350,585" stroke-width="6.84"/>
<path d="M1075,950 L1075,1405" stroke-width="6.84"/>
<path d="M770,650 L1030,510 L1075,510 L1095,525 L1050,600 L790,750"/>
<path d="M790,670 L1060,525"/>
<path d="M790,690 L1075,545"/>
<path d="M760,645 L710,630 L640,640 L550,690 L430,870 L440,920 L480,960 L540,1010 L600,990 L700,900 L770,780 Z" stroke-width="12.05"/>
<path d="M600,700 L720,660 L770,680 L770,780 L700,870 L620,920 L570,890 L560,820 Z"/>
<path d="M592,850 L740,752" stroke-width="15.06"/>
<path d="M570,700 L450,880 L480,950 L540,850 L600,700"/>
<path d="M500,890 L520,940 L560,900"/>
<path d="M285,940 C309.2,934.2 390.8,906.7 430,905 C469.2,903.3 503.3,915.8 520,930 C536.7,944.2 545.0,973.3 530,990 C515.0,1006.7 465.0,1021.7 430,1030 C395.0,1038.3 353.3,1041.7 320,1040 C286.7,1038.3 245.0,1023.3 230,1020"/>
<path d="M300,955 C321.7,950.0 396.7,926.7 430,925 C463.3,923.3 487.5,935.0 500,945 C512.5,955.0 516.7,973.8 505,985 C493.3,996.2 459.2,1005.8 430,1012 C400.8,1018.2 346.7,1020.3 330,1022"/>
<path d="M340,990 L430,1030 L485,1240 L400,1215 Z"/>
<path d="M95,930 L130,915 L235,918 L280,960 L340,1100 L355,1200 L340,1270 L280,1320 L190,1280 L130,1200 L100,1100 Z" stroke-width="12.05"/>
<path d="M115,1020 L230,1020 L290,1120 L300,1230 L260,1290 L200,1270 L140,1180 Z"/>
<path d="M207,1072 L216,1258" stroke-width="15.06"/>
<path d="M140,960 L220,955 L225,985 L145,990 Z"/>
<path d="M235,918 L300,1060 L330,1180 L320,1260"/>
<path d="M185,1290 L195,1620 L230,1670 L260,1660 L285,1620 L290,1320"/>
<path d="M240,1330 L235,1660"/>
<path d="M265,1330 L262,1640"/>
</g>
<g transform="translate(1100,3040) scale(0.53223)" stroke-width="2.94">
<path d="M320,615 L320,825" stroke-width="3.19"/>
<path d="M498,455 L690,345" stroke-width="3.19"/>
<path d="M1140,380 L1358,380" stroke-width="3.19"/>
<path d="M716,915 L716,1135" stroke-width="3.19"/>
</g>
<g transform="translate(1150,2980) scale(0.44352)" stroke-width="2.29">
<path d="M145,410 C147.5,402.5 150.8,379.2 160,365 C169.2,350.8 181.7,334.2 200,325 C218.3,315.8 236.7,309.2 270,310 C303.3,310.8 365.0,329.2 400,330 C435.0,330.8 461.7,323.3 480,315 C498.3,306.7 500.0,300.8 510,280 C520.0,259.2 530.0,211.7 540,190 C550.0,168.3 556.7,159.2 570,150 C583.3,140.8 598.3,135.8 620,135 C641.7,134.2 670.0,140.0 700,145 C730.0,150.0 758.3,164.2 800,165 C841.7,165.8 908.3,153.3 950,150 C991.7,146.7 1020.0,143.3 1050,145 C1080.0,146.7 1105.0,149.2 1130,160 C1155.0,170.8 1182.5,190.0 1200,210 C1217.5,230.0 1228.3,248.3 1235,280 C1241.7,311.7 1238.3,360.0 1240,400 C1241.7,440.0 1242.5,486.7 1245,520 C1247.5,553.3 1254.2,575.0 1255,600 C1255.8,625.0 1257.5,648.3 1250,670 C1242.5,691.7 1230.0,713.3 1210,730 C1190.0,746.7 1151.7,756.7 1130,770 C1108.3,783.3 1094.2,793.3 1080,810 C1065.8,826.7 1053.3,848.3 1045,870 C1036.7,891.7 1037.5,920.8 1030,940 C1022.5,959.2 1018.3,976.7 1000,985 C981.7,993.3 933.3,989.2 920,990"/>
<path d="M165,370 L1145,645"/>
<path d="M495,310 L1240,515"/>
<path d="M695,150 L775,370"/>
<path d="M735,160 L800,385"/>
<path d="M800,165 L850,400"/>
<path d="M875,170 L910,420"/>
<path d="M635,510 L740,700 L975,985"/>
<path d="M820,560 L1060,850"/>
<path d="M860,580 L1090,800"/>
<path d="M750,600 L950,800"/>
<path d="M700,520 L1000,985"/>
<path d="M835,320 L870,290 L900,280 L940,270 L1020,305 L1030,400 L1055,440 L1050,470 L1000,450 L980,420 L940,400 L930,320 L850,330 Z" stroke-width="2.59"/>
<path d="M930,335 L985,325 L1000,380 L950,395 Z" stroke-width="2.59"/>
<ellipse cx="963" cy="360" rx="10" ry="13"/>
<path d="M1000,310 L1010,400 L1040,445"/>
<path d="M540,215 C544.2,210.0 555.8,189.2 565,185 C574.2,180.8 589.5,185.0 595,190 C600.5,195.0 603.8,207.5 598,215 C592.2,222.5 568.8,222.5 560,235 C551.2,247.5 547.5,280.8 545,290"/>
<path d="M520,300 L560,235"/>
<path d="M550,225 C554.2,220.8 568.3,203.3 575,200 C581.7,196.7 587.5,204.2 590,205"/>
<path d="M660,350 L740,300"/>
<path d="M680,330 L750,295"/>
<ellipse cx="1010" cy="635" rx="13" ry="22" stroke-width="3.19" transform="rotate(-15 1010 635)"/>
<path d="M870,585 L900,630 L940,640 L1080,720 L1090,700"/>
<path d="M880,600 L930,655 L1070,735"/>
<path d="M1130,640 L1140,610 L1190,620 L1195,650 L1180,665 L1210,690 L1240,670"/>
<ellipse cx="1172" cy="738" rx="9" ry="15" stroke-width="2.79" transform="rotate(-15 1172 738)"/>
<path d="M1085,770 L1100,760 L1130,780"/>
<path d="M1140,640 L1125,760"/>
<path d="M722,712 L795,685 L835,740 L815,760 L790,790 L780,800 Z" stroke-width="2.79"/>
<ellipse cx="725" cy="540" rx="13" ry="20" transform="rotate(-20 725 540)"/>
</g>
<g transform="translate(1150,2980) scale(0.44352)" stroke-width="3.53">
<ellipse cx="455" cy="712" rx="24" ry="48" stroke-width="3.99" transform="rotate(-25 455 712)"/>
<path d="M380,700 L400,690 L435,700 L440,750 L410,755 L385,740 Z" stroke-width="4.29"/>
<path d="M400,692 L405,750"/>
<path d="M418,696 L422,752"/>
<path d="M455,670 L485,680 L478,705 Z" fill="#000"/>
<path d="M385,735 L350,770 L-65,1022 L-70,1032 L-58,1040 L370,810 L400,790 L440,755"/>
<path d="M360,803 L70,968" stroke-width="4.60"/>
<path d="M50,965 L65,978 L85,965"/>
</g>
<g transform="translate(1100,3040) scale(0.53223)" stroke-width="2.94">
<ellipse cx="708" cy="1165" rx="32" ry="28" stroke-width="5.11"/>
<ellipse cx="712" cy="1168" rx="12" ry="12"/>
<path d="M685,1150 L700,1135 L735,1140"/>
</g>
<g transform="translate(1340,3540) scale(0.50000)" stroke-width="3.13">
<path d="M300,255 L400,315" stroke-width="3.40"/>
<path d="M430,335 L490,370" stroke-width="3.40"/>
<path d="M520,390 L575,420" stroke-width="3.40"/>
<path d="M620,445 L680,480" stroke-width="3.40"/>
<path d="M715,490 L1165,750" stroke-width="3.40"/>
<path d="M1342,420 L1342,650" stroke-width="3.40"/>
<path d="M307,1075 L535,1075" stroke-width="3.40"/>
</g>
<g transform="translate(1340,3540) scale(0.50000)" stroke-width="2.03">
<path d="M350,385 C358.3,375.8 383.3,354.2 400,330 C416.7,305.8 435.0,267.5 450,240 C465.0,212.5 475.0,185.0 490,165 C505.0,145.0 521.7,130.8 540,120 C558.3,109.2 573.3,102.5 600,100 C626.7,97.5 668.3,105.8 700,105 C731.7,104.2 765.8,98.3 790,95 C814.2,91.7 835.8,86.7 845,85"/>
<path d="M810,95 C816.7,100.8 838.3,116.7 850,130 C861.7,143.3 875.0,158.3 880,175 C885.0,191.7 883.3,214.2 880,230 C876.7,245.8 873.3,252.5 860,270 C846.7,287.5 826.7,315.0 800,335 C773.3,355.0 726.7,379.2 700,390 C673.3,400.8 656.7,400.0 640,400 C623.3,400.0 607.5,400.0 600,390 C592.5,380.0 591.7,356.7 595,340 C598.3,323.3 602.5,308.3 620,290 C637.5,271.7 670.0,250.0 700,230 C730.0,210.0 775.0,183.3 800,170 C825.0,156.7 841.7,153.3 850,150"/>
<ellipse cx="655" cy="325" rx="27" ry="44" stroke-width="2.30" transform="rotate(25 655 325)"/>
<ellipse cx="740" cy="295" rx="42" ry="60" stroke-width="2.65" transform="rotate(25 740 295)"/>
<ellipse cx="820" cy="235" rx="27" ry="44" stroke-width="2.30" transform="rotate(25 820 235)"/>
<path d="M640,300 L670,310 L675,350"/>
<path d="M805,215 L835,220 L838,255"/>
<path d="M720,260 L755,290 L745,330 L715,345" stroke-width="3.09"/>
<path d="M480,215 L600,280"/>
<path d="M520,130 L560,150"/>
<path d="M570,120 L615,160"/>
<path d="M715,105 L730,130"/>
<path d="M790,95 L800,110"/>
<path d="M430,300 L470,320"/>
<path d="M860,260 L900,290 L905,440 L880,480 L510,660 L485,700"/>
<path d="M350,385 C358.3,387.5 375.0,393.3 400,400 C425.0,406.7 466.7,420.0 500,425 C533.3,430.0 573.3,430.8 600,430 C626.7,429.2 650.0,421.7 660,420"/>
<path d="M320,400 C323.3,406.7 310.0,423.3 340,440 C370.0,456.7 473.3,490.0 500,500"/>
<path d="M660,420 L520,490 L500,520 L495,660 L440,690 L445,710"/>
<ellipse cx="790" cy="437" rx="7" ry="12" stroke-width="2.65" transform="rotate(20 790 437)"/>
<ellipse cx="703" cy="487" rx="9" ry="15" stroke-width="2.65" transform="rotate(20 703 487)"/>
<ellipse cx="617" cy="538" rx="7" ry="12" stroke-width="2.65" transform="rotate(20 617 538)"/>
<path d="M800,335 L880,290"/>
<path d="M490,795 L835,595"/>
<path d="M490,795 L510,830 L600,940"/>
<path d="M545,830 L540,800 L870,615 L890,640 L905,790 L880,840 L660,970" stroke-width="2.30"/>
<path d="M545,830 L640,960"/>
<ellipse cx="742" cy="805" rx="35" ry="45" stroke-width="2.30"/>
<ellipse cx="830" cy="755" rx="14" ry="20" stroke-width="2.65"/>
<ellipse cx="655" cy="857" rx="14" ry="20" stroke-width="2.65"/>
<path d="M75,575 C76.7,564.2 79.2,529.2 85,510 C90.8,490.8 95.8,474.2 110,460 C124.2,445.8 143.3,433.3 170,425 C196.7,416.7 240.0,416.7 270,410 C300.0,403.3 336.7,389.2 350,385"/>
<path d="M105,465 C117.5,482.5 147.5,540.0 180,570 C212.5,600.0 280.0,632.5 300,645"/>
<path d="M90,520 C104.0,534.0 180.0,598.0 230,660 C280.0,722.0 554.0,1092.0 590,1140"/>
<path d="M265,415 C276.5,435.5 360.5,583.5 380,620 C399.5,656.5 452.0,764.0 460,780"/>
<path d="M440,700 C452.0,720.0 540.0,870.0 560,900 C580.0,930.0 623.5,976.0 640,1000 C656.5,1024.0 716.5,1126.0 725,1140"/>
<path d="M860,490 C864.0,505.0 886.0,575.0 900,640 C914.0,705.0 990.0,1090.0 1000,1140"/>
<path d="M880,490 C884.0,505.0 905.0,575.0 920,640 C935.0,705.0 1019.0,1090.0 1030,1140"/>
<path d="M905,790 C906.5,791.0 909.0,765.0 920,800 C931.0,835.0 1005.5,1106.0 1015,1140"/>
<path d="M880,870 L990,1140"/>
</g>
<g transform="translate(1340,3540) scale(0.50000)" stroke-width="3.13">
<path d="M1060,830 L1075,810 L1420,615 L1445,612 L1465,630 L1470,760 L1455,780 L1100,995 L1075,1000 L1055,985 Z" stroke-width="3.81"/>
<path d="M1100,995 L1085,985 L1090,850 L1100,835 L1430,640 L1455,638 L1470,650"/>
<path d="M1070,990 L1075,840 L1085,825"/>
<path d="M1095,830 L1440,630" stroke-width="4.90"/>
<ellipse cx="1203" cy="768" rx="8" ry="9" fill="#000"/>
<path d="M1225,790 L1245,805"/>
<path d="M1250,775 L1270,790"/>
<path d="M1135,835 L1130,955" stroke-width="2.72"/>
<path d="M1130,850 L1215,825" stroke-width="2.72"/>
<path d="M1365,705 L1360,820" stroke-width="2.72"/>
<path d="M1355,725 L1445,700" stroke-width="2.72"/>
<path d="M1148,831 L1143,951" stroke-width="2.72"/>
<path d="M1130,865 L1215,840" stroke-width="2.72"/>
<path d="M1378,701 L1373,816" stroke-width="2.72"/>
<path d="M1355,740 L1445,715" stroke-width="2.72"/>
<path d="M1161,827 L1156,947" stroke-width="2.72"/>
<path d="M1130,880 L1215,855" stroke-width="2.72"/>
<path d="M1391,697 L1386,812" stroke-width="2.72"/>
<path d="M1355,755 L1445,730" stroke-width="2.72"/>
<path d="M1174,823 L1169,943" stroke-width="2.72"/>
<path d="M1130,895 L1215,870" stroke-width="2.72"/>
<path d="M1404,693 L1399,808" stroke-width="2.72"/>
<path d="M1355,770 L1445,745" stroke-width="2.72"/>
<path d="M1187,819 L1182,939" stroke-width="2.72"/>
<path d="M1130,910 L1215,885" stroke-width="2.72"/>
<path d="M1417,689 L1412,804" stroke-width="2.72"/>
<path d="M1355,785 L1445,760" stroke-width="2.72"/>
<path d="M1200,815 L1195,935" stroke-width="2.72"/>
<path d="M1130,925 L1215,900" stroke-width="2.72"/>
<path d="M1430,685 L1425,800" stroke-width="2.72"/>
<path d="M1355,800 L1445,775" stroke-width="2.72"/>
<path d="M1213,811 L1208,931" stroke-width="2.72"/>
<path d="M1130,940 L1215,915" stroke-width="2.72"/>
<path d="M1443,681 L1438,796" stroke-width="2.72"/>
<path d="M1355,815 L1445,790" stroke-width="2.72"/>
</g>
<g transform="translate(2080,3100) scale(0.66233)" stroke-width="2.36">
<path d="M805,148 L805,320" stroke-width="2.57"/>
<path d="M1522,125 L1522,300" stroke-width="2.57"/>
<path d="M1088,270 L1088,445" stroke-width="2.57"/>
<path d="M105,395 L105,570" stroke-width="2.57"/>
<path d="M128,608 L250,638" stroke-width="2.57"/>
<path d="M345,660 L580,725" stroke-width="2.57"/>
<path d="M710,765 L930,825" stroke-width="2.57"/>
<path d="M1190,665 L1190,845" stroke-width="2.57"/>
<path d="M985,865 L985,1040" stroke-width="2.57"/>
<path d="M632,985 L632,1165" stroke-width="2.57"/>
<path d="M545,1003 L605,970" stroke-width="2.57"/>
<path d="M385,1098 L465,1052" stroke-width="2.57"/>
<path d="M350,1275 L350,1450" stroke-width="2.57"/>
<path d="M1208,625 L1310,570" stroke-width="2.57"/>
<path d="M1365,530 L1510,450" stroke-width="2.57"/>
<ellipse cx="100" cy="600" rx="28" ry="30" stroke-width="3.70"/>
<ellipse cx="108" cy="602" rx="10" ry="12" stroke-width="3.08"/>
<path d="M78,585 L95,570 L122,578"/>
<path d="M262,660 L290,620 L440,530 L580,455 L640,410 L800,325 L830,322 L855,345 L858,400 L840,445 L680,540 L655,550 L640,590 L470,680 L330,745 L300,745 L270,720 Z" stroke-width="2.67"/>
<path d="M290,680 L385,625 L400,640 L395,655 L300,705 L288,695 Z" stroke-width="2.67"/>
<path d="M730,425 L830,370 L845,385 L838,400 L745,450 L730,440 Z" stroke-width="2.67"/>
<ellipse cx="505" cy="580" rx="28" ry="35"/>
<path d="M550,530 L590,515 L600,555 L562,572 Z" stroke-width="2.87"/>
<ellipse cx="585" cy="542" rx="6" ry="9"/>
<path d="M580,455 L640,600"/>
<path d="M650,415 L670,540"/>
<path d="M440,530 L470,680"/>
<path d="M428,540 L458,685"/>
<path d="M425,690 L450,680 L440,715 L430,712 Z"/>
<path d="M445,605 L465,610 L465,630 L450,628"/>
<path d="M455,795 L1195,375" stroke-width="3.29"/>
<path d="M455,795 L425,800 L420,830 L435,1050 L475,1095 L510,1085 L535,1080 L540,940 L555,900 L590,870 L620,870" stroke-width="2.67"/>
<path d="M455,800 L510,1085"/>
<path d="M620,870 L1230,525 L1255,495 L1280,495 L1300,530 L1320,590 L1340,610 L1355,600 L1300,315 L1285,310 L1195,375" stroke-width="2.67"/>
<path d="M565,750 L620,870"/>
<path d="M590,740 L622,862"/>
<path d="M1195,375 L1230,525"/>
<path d="M1215,368 L1247,500"/>
<ellipse cx="1278" cy="318" rx="8" ry="10"/>
<path d="M1275,500 L1280,560 L1310,585 L1322,590"/>
<ellipse cx="1310" cy="570" rx="7" ry="14"/>
<path d="M805,680 L820,650 L985,555 L1010,560 L1012,590 L1000,610 L830,705 L810,705 Z" stroke-width="2.87"/>
<path d="M637,780 L735,722 L748,735 L740,750 L648,800 L636,792 Z" stroke-width="2.87"/>
<path d="M1075,525 L1170,468 L1185,480 L1178,495 L1085,548 L1073,540 Z" stroke-width="2.87"/>
<ellipse cx="465" cy="1052" rx="8" ry="12" stroke-width="2.87"/>
<ellipse cx="1168" cy="645" rx="25" ry="25" stroke-width="3.70"/>
<ellipse cx="1162" cy="645" rx="10" ry="11"/>
<path d="M1148,630 L1165,622 L1188,632"/>
<ellipse cx="1000" cy="838" rx="22" ry="28" stroke-width="3.08" fill="#000"/>
<ellipse cx="1004" cy="838" rx="10" ry="15" fill="#fff"/>
<path d="M950,815 L985,820"/>
<path d="M955,847 L985,856"/>
<ellipse cx="952" cy="830" rx="6" ry="16"/>
<ellipse cx="961" cy="832" rx="6" ry="17"/>
<ellipse cx="969" cy="833" rx="6" ry="17"/>
<ellipse cx="977" cy="834" rx="6" ry="17"/>
<ellipse cx="628" cy="958" rx="28" ry="26" stroke-width="3.70"/>
<ellipse cx="622" cy="960" rx="10" ry="10" stroke-width="3.08"/>
<path d="M610,940 L635,932 L655,945"/>
<ellipse cx="1540" cy="430" rx="105" ry="132" stroke-width="2.67" transform="rotate(-15 1540 430)"/>
<path d="M1500,305 C1430,330 1420,470 1465,530" stroke-width="2.36"/>
<path d="M1465,365 C1463.3,377.5 1450.8,417.5 1455,440 C1459.2,462.5 1474.2,485.0 1490,500 C1505.8,515.0 1531.7,527.5 1550,530 C1568.3,532.5 1591.7,517.5 1600,515"/>
<path d="M1600,515 L1612,480 L1585,478"/>
<path d="M1585,478 C1583.3,481.7 1582.5,495.5 1575,500 C1567.5,504.5 1552.5,508.3 1540,505 C1527.5,501.7 1510.3,492.5 1500,480 C1489.7,467.5 1481.3,446.7 1478,430 C1474.7,413.3 1479.7,388.3 1480,380"/>
<path d="M1480,380 L1465,365"/>
<ellipse cx="1535" cy="432" rx="14" ry="18" stroke-width="4.11"/>
<path d="M1497,452 L1525,438"/>
<path d="M1500,462 L1528,448"/>
<ellipse cx="300" cy="1145" rx="100" ry="132" stroke-width="2.87" transform="rotate(-25 300 1145)"/>
<ellipse cx="290" cy="1150" rx="88" ry="120" transform="rotate(-25 290 1150)"/>
<path d="M290,1140 C293.0,1139.2 304.3,1133.0 308,1135 C311.7,1137.0 313.7,1147.8 312,1152 C310.3,1156.2 300.3,1158.7 298,1160"/>
<path d="M312,1128 C315.0,1127.3 326.3,1121.7 330,1124 C333.7,1126.3 335.7,1138.0 334,1142 C332.3,1146.0 322.3,1147.0 320,1148"/>
<path d="M334,1116 C336.7,1115.5 346.7,1110.7 350,1113 C353.3,1115.3 355.3,1126.2 354,1130 C352.7,1133.8 344.0,1135.0 342,1136"/>
</g>
</g>
<use href="#a" x="1.4" y="0"/>
<use href="#a" x="0" y="1.4"/>
<use href="#a" x="1.4" y="1.4"/>
</g>
<g>
<text class="t" x="614.5 646.8 679.1 711.4 743.7" y="166.5" font-size="53">27005</text>
<text class="t" x="332.5 364.8 397.1" y="907.5" font-size="53">461</text>
<text class="t" x="216.0 248.3 280.6 312.9 345.2" y="966" font-size="53">92153</text>
<text class="t" x="764.5 796.8 829.1 861.4 893.7 926.0 958.3 990.6 1022.9 1055.2 1087.5 1119.8 1152.1 1184.4" y="876" font-size="53">Ref.Front Fork</text>
<g transform="translate(100,150) scale(0.5)"><text class="fr" font-size="160" transform="skewY(30) scale(0.53,1)" x="405.7 566.0 726.4 886.8 1030.2" y="234">FRONT</text></g>
<text class="t" x="1293.0 1326.4 1359.8 1393.2 1426.6 1460.0 1493.4 1526.8" y="511" font-size="53">(OPTION)</text>
<text class="t" x="1339.0 1371.3 1403.6 1435.9 1468.2" y="711.5" font-size="53">27008</text>
<text class="t" x="1764.5 1796.9 1829.3 1861.7 1894.1 1926.5" y="757" font-size="53">27005A</text>
<text class="t" x="2560.8 2593.2 2625.6 2658.0 2690.4 2722.8" y="404.6" font-size="53">27016A</text>
<text class="t" x="2655.1 2687.9 2720.7 2753.5 2786.3 2819.1 2851.9 2884.7" y="691" font-size="53">Ref.Fuel</text>
<text class="t" x="2788.3 2820.3 2852.3 2884.3" y="752.8" font-size="53">Tank</text>
<text class="t" x="2914.5 2943.9 2973.3 3002.7 3032.1" y="147.8" font-size="49">F2770</text>
<text class="t" x="1767.0 1799.3 1831.6 1863.9 1896.2" y="852.4" font-size="53">92171</text>
<text class="t" x="1318.6 1350.8 1383.0 1415.2 1447.4 1479.6 1511.8 1544.0 1576.2 1608.4 1640.6" y="1236.4" font-size="53">Ref.Cowling</text>
<text class="t" x="1037.5 1070.0 1102.5 1135.0 1167.5 1200.0" y="1294" font-size="53">92154A</text>
<text class="t" x="1165.0 1197.3 1229.6 1261.9 1294.2 1326.5" y="1832.5" font-size="53">28012A</text>
<text class="t" x="965.5 997.8 1030.1 1062.4 1094.7 1127.0" y="1873.5" font-size="53">11057A</text>
<text class="t" x="850.0 882.3 914.6 946.9 979.2" y="1935" font-size="53">92210</text>
<text class="t" x="198.8 232.0 265.1 298.3 331.5 364.6 397.8 431.0 464.2 497.3 530.5 563.7 596.8 630.0" y="1513.5" font-size="53">Ref.Front Fork</text>
<text class="t" x="27.5 59.4 91.4 123.3 155.2 187.2 219.1 251.1 283.0 314.9 346.9 378.8 410.8 442.7 474.6 506.6 538.5 570.4 602.4 634.3 666.2 698.2 730.1 762.1 794.0" y="2404" font-size="53">Ref.Front Master Cylinder</text>
<text class="t" x="476.8 508.8 540.9 572.9 604.9" y="2896" font-size="53">92210</text>
<text class="t" x="326.7 359.0 391.3 423.6 455.9 488.2" y="2974.7" font-size="53">11057A</text>
<text class="t" x="165.5 197.8 230.0 262.3 294.5 326.8" y="3139" font-size="53">28012A</text>
<text class="t" x="1368.0 1401.4 1434.8 1468.3 1501.7" y="2476.6" font-size="53">92072</text>
<text class="t" x="1146.8 1178.8 1210.8 1242.7 1274.7" y="2507.8" font-size="53">92152</text>
<text class="t" x="1001.8 1034.5 1067.2 1100.0 1132.7 1165.4" y="2824.6" font-size="53">92002A</text>
<text class="t" x="1293.0 1325.0 1357.0 1389.0 1421.0" y="2946.3" font-size="53">14091</text>
<text class="t" x="1572.2 1605.0 1637.8 1670.6 1703.4" y="2974.2" font-size="53">27010</text>
<text class="t" x="2356.4 2388.6 2420.8 2453.1 2485.3 2517.5 2549.7 2582.0 2614.2 2646.4 2678.6 2710.9 2743.1 2775.3 2807.5 2839.8 2872.0 2904.2" y="1048" font-size="53">Ref.Frame Fittings</text>
<text class="t" x="2919.5 2951.7 2984.0 3016.2 3048.5 3080.7" y="1256.3" font-size="53">92072A</text>
<text class="t" x="2608.2 2640.5 2672.8 2705.1 2737.4 2769.7" y="1627" font-size="53">11057B</text>
<text class="t" x="2530.3 2562.7 2595.1 2627.5 2659.9" y="2326.2" font-size="53">92072</text>
<text class="t" x="2726.7 2760.3 2793.9 2827.4 2861.0 2894.6" y="2499.9" font-size="53">27010A</text>
<text class="t" x="2768.5 2802.6 2836.6 2870.6 2904.7" y="2820.3" font-size="53">92145</text>
<text class="t" x="1712.7 1745.6 1778.6 1811.5 1844.5 1877.4 1910.3 1943.3 1976.2" y="1757.2" font-size="53">Ref.Frame</text>
<text class="t" x="1616.8 1648.4 1679.9 1711.5 1743.1" y="2030.9" font-size="53">92154</text>
<text class="t" x="1741.6 1774.1 1806.6 1839.2 1871.7 1904.2" y="2302.7" font-size="53">92015A</text>
<text class="t" x="2385.6 2417.5 2449.3 2481.2 2513.1" y="2449.1" font-size="53">55020</text>
<text class="t" x="2136.7 2169.0 2201.3" y="2580.7" font-size="53">130</text>
<text class="t" x="481.5 514.0 546.4 578.8 611.3" y="4038.5" font-size="53">27016</text>
<text class="t" x="631.7 663.9 696.2 728.4 760.6 792.8 825.1 857.3 889.5 921.8 954.0 986.2 1018.4 1050.7 1082.9" y="3962.4" font-size="53">Ref.Side Covers</text>
<text class="t" x="761.8 793.8 825.7 857.7 889.7 921.7 953.6 985.6 1017.6 1049.6 1081.5 1113.5" y="4024.2" font-size="53">/Chain Cover</text>
<text class="t" x="908.2 941.4 974.6 1007.9 1041.1 1074.3 1107.5 1140.8 1174.0 1207.2 1240.4 1273.7 1306.9 1340.1 1373.3 1406.6 1439.8 1473.0" y="4095.1" font-size="53">Ref.Rear Fender(s)</text>
<text class="t" x="1189.7 1222.2 1254.6 1287.1 1319.5 1352.0" y="3529.6" font-size="53">92072A</text>
<text class="t" x="1416.9 1449.0 1481.1 1513.1 1545.2" y="3512.6" font-size="53">92210</text>
<text class="t" x="1839.0 1870.8 1902.6 1934.4 1966.2 1998.1 2029.9 2061.7 2093.5" y="3260.9" font-size="53">Ref.Frame</text>
<text class="t" x="1931.5 1963.5 1995.5 2027.5 2059.5 2091.5" y="3739" font-size="53">28012B</text>
<text class="t" x="2369.4 2401.5 2433.6 2465.7 2497.8 2529.9 2562.0 2594.1 2626.3 2658.4 2690.5 2722.6 2754.7 2786.8 2818.9 2851.0" y="3184.8" font-size="53">Ref.Taillight(s)</text>
<text class="t" x="3025.1 3057.2 3089.4 3121.5 3153.7" y="3169.5" font-size="53">28012</text>
<text class="t" x="2731.1 2763.4 2795.7 2828.0 2860.3" y="3265.6" font-size="53">11057</text>
<text class="t" x="2084.5 2117.0 2149.5 2182.0 2214.5" y="3348.4" font-size="53">92015</text>
<text class="t" x="2804.5 2836.7 2868.8 2901.0 2933.2" y="3709.3" font-size="53">92210</text>
<text class="t" x="2667.4 2700.1 2732.7 2765.3 2798.0" y="3838.5" font-size="53">92002</text>
<text class="t" x="2434.9 2467.2 2499.6 2531.9 2564.2" y="3922.6" font-size="53">92210</text>
<text class="t" x="2246.8 2279.3 2311.8 2344.3 2376.8" y="4113.4" font-size="53">28012</text>
</g>
</svg>
</body></html>
